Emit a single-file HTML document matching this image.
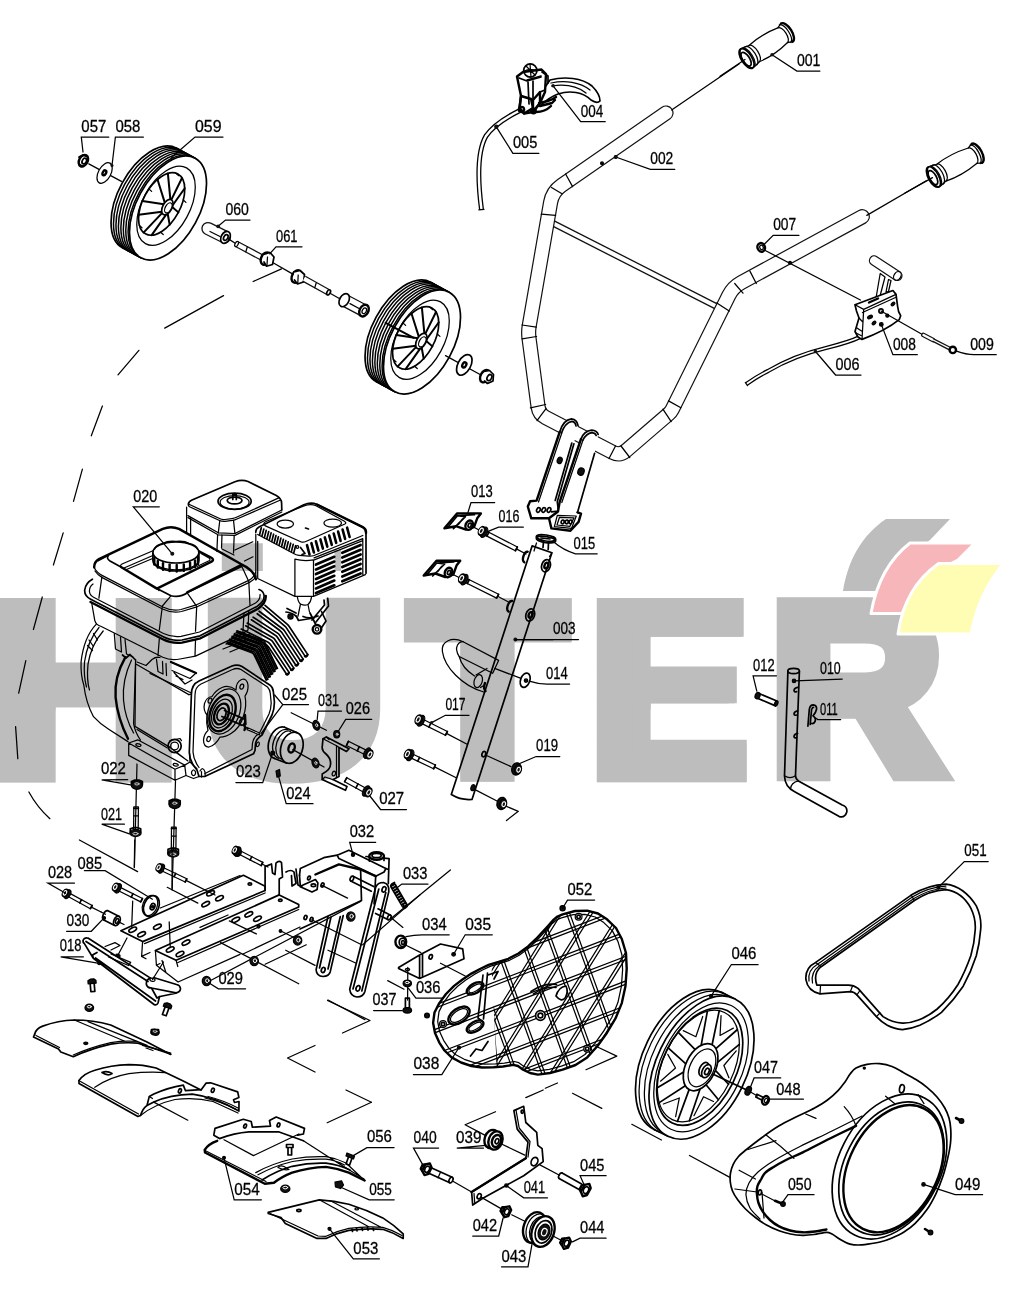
<!DOCTYPE html>
<html lang="ru"><head><meta charset="utf-8"><title>HUTER – схема деталей</title>
<style>
html,body{margin:0;padding:0;background:#fff;}
body{width:1014px;height:1302px;overflow:hidden;}
svg{display:block;will-change:transform}
.k{fill:none;stroke:#000;stroke-width:1.25;stroke-linecap:round;stroke-linejoin:round}
.k2{fill:none;stroke:#000;stroke-width:1.7;stroke-linecap:round;stroke-linejoin:round}
.k3{fill:none;stroke:#000;stroke-width:2.4;stroke-linecap:round;stroke-linejoin:round}
.w{fill:#fff;stroke:#000;stroke-width:1.25;stroke-linecap:round;stroke-linejoin:round}
.w2{fill:#fff;stroke:#000;stroke-width:1.7;stroke-linecap:round;stroke-linejoin:round}
.w3{fill:#fff;stroke:#000;stroke-width:2.4;stroke-linejoin:round}
.b{fill:#111;stroke:#000;stroke-width:1.25;stroke-linejoin:round}
.t{fill:none;stroke:#111;stroke-width:.8;stroke-linecap:round;stroke-linejoin:round}
.lb text{font-family:"Liberation Sans",sans-serif;font-size:17px;fill:#000;stroke:#000;stroke-width:.3px}
.lb path,.lb line{fill:none;stroke:#000;stroke-width:1.25;stroke-linecap:round}
</style></head><body>
<svg width="1014" height="1302" viewBox="0 0 1014 1302">
<!-- 00_watermark.svg -->
<defs>
<clipPath id="wmH"><path d="M0 598H55.6V782.4H0Z M115.7 598H171.6V782.4H115.7Z M0 662.6H171.6V707.2H0Z"/></clipPath>
<clipPath id="wmE"><path d="M596.8 598.1H650.6V782.2H596.8Z M596.8 598.1H743.7V636.8H596.8Z M596.8 666.4H736.8V703.3H596.8Z M596.8 739.8H746.7V782.2H596.8Z"/></clipPath>
<clipPath id="wmT"><path d="M403.9 598.2H571.6V642.6H403.9Z M460.2 598.2H514.4V781.7H460.2Z"/></clipPath>
</defs>
<path fill="#bdbdbd" d="M0 598H55.6V782.4H0Z M115.7 598H171.6V782.4H115.7Z M0 662.6H171.6V707.2H0Z M596.8 598.1H650.6V782.2H596.8Z M596.8 598.1H743.7V636.8H596.8Z M596.8 666.4H736.8V703.3H596.8Z M596.8 739.8H746.7V782.2H596.8Z M403.9 598.2H571.6V642.6H403.9Z M460.2 598.2H514.4V781.7H460.2Z"/>
<g font-family="Liberation Sans, sans-serif" font-weight="700" font-size="245.76" fill="#bdbdbd" stroke="#bdbdbd" stroke-linejoin="miter" stroke-miterlimit="6">
<g clip-path="url(#wmH)"><text transform="translate(-8.73 774.20) scale(1.0660 0.9936)" stroke-width="16.5">H</text></g>
<text transform="translate(200.97 773.26) scale(1.0498 0.9895)" stroke-width="16.5">U</text>
<g clip-path="url(#wmT)"><text transform="translate(409.44 773.42) scale(1.0458 0.9909)" stroke-width="16.5">T</text></g>
<g clip-path="url(#wmE)"><text transform="translate(585.79 776.58) scale(1.0069 1.0223)" stroke-width="11.0">E</text></g>
<text transform="translate(770.56 771.86) scale(0.9688 0.9737)" stroke-width="20.0">R</text>
</g>
<path d="M221.8 543.2H262.8V571H221.8Z M334.6 550H341V571H334.6Z" fill="#bdbdbd"/>
<g stroke="#fff" stroke-width="3" stroke-linejoin="round">
<path d="M886 519 L950 519 L930 540 C900 560 885 575 876 591 L843 591 C848 560 862 535 886 519Z" fill="#bdbdbd" stroke="none"/>
<path d="M910 543 L975 543 L958 560 C925 575 910 595 902 613.5 L871 613.5 C876 585 888 560 910 543Z" fill="#f6b6ba"/>
<path d="M938.6 563.5 L1003.5 563.5 C987 583 976 608 971 634 L898 634 C902 605 915 580 938.6 563.5Z" fill="#fffcb4"/>
</g>
<!-- 05_arc.svg -->
<path class="k" d="M164.7 328.1L223.5 295.6 M118 374.8L138.9 350.3 M91.3 435.8L102.4 406 M73.5 501.3L82.4 469.2 M53.4 565L63.2 532.9 M33.4 629.5L42.3 597 M18.7 693.2L25.8 660.7 M17.8 758.6L15.6 726.6 M28.9 792 Q37 807 49.9 818.7"/>
<!-- 10_handlebar.svg -->
<path d="M551.5 222.5 L715.5 306" fill="none" stroke="#111" stroke-width="6.8" stroke-linecap="butt" stroke-linejoin="round"/><path d="M551.5 222.5 L715.5 306" fill="none" stroke="#fff" stroke-width="4.2" stroke-linecap="butt" stroke-linejoin="round"/>
<path d="M666 113 L561.4 185.5 Q552.5 191.7 550.6 202.4 L529.2 326 Q528.2 332 529 338.1 L538.1 406.9 Q539.1 414.1 545.6 417.5 L612.5 452.3 Q619.7 456.1 625.9 450.8 L668.8 413.8 Q670.9 412 672.2 409.5 L728.7 295.6 Q732.9 287.1 741.2 282.6 L862.3 216.7" fill="none" stroke="#111" stroke-width="15.2" stroke-linecap="round" stroke-linejoin="round"/><path d="M666 113 L561.4 185.5 Q552.5 191.7 550.6 202.4 L529.2 326 Q528.2 332 529 338.1 L538.1 406.9 Q539.1 414.1 545.6 417.5 L612.5 452.3 Q619.7 456.1 625.9 450.8 L668.8 413.8 Q670.9 412 672.2 409.5 L728.7 295.6 Q732.9 287.1 741.2 282.6 L862.3 216.7" fill="none" stroke="#fff" stroke-width="12.8" stroke-linecap="round" stroke-linejoin="round"/>
<path class="k" d="M565.6 174L572.6 186.6"/>
<path class="k" d="M551.5 187.5L562 193.8"/>
<path class="k" d="M541.3 214.2L555.6 215.4"/>
<path class="k" d="M522.1 325L536.3 327.1"/>
<path class="k" d="M522.1 338.8L536.5 336.5"/>
<path class="k" d="M530.4 407.8L545.6 404.5"/>
<path class="k" d="M537 420.5L546 408.5"/>
<path class="k" d="M609 458.5L615.5 446"/>
<path class="k" d="M629.8 457.5L621 446"/>
<path class="k" d="M662.9 409.2L671.2 421.6"/>
<path class="k" d="M668.5 400.9L680.9 407.8"/>
<path class="k" d="M716.8 302.9L729.2 311.1"/>
<path class="k" d="M734.7 283.5L743 293.2"/>
<path class="k" d="M749.9 271.1L756.3 283.5"/>
<circle class="b" cx="602" cy="163.3" r="1.4"/>
<circle class="b" cx="615.7" cy="157" r="1.4"/>
<circle class="b" cx="790" cy="262.8" r="1.4"/>
<path class="k" d="M671.6 110L739 64"/>
<path class="k" d="M866.8 215.4L926.3 180.8"/>
<g class="lb"><text x="650.3" y="164.1" textLength="23" lengthAdjust="spacingAndGlyphs">002</text><path d="M674.8 169.3L650.3 169.3L615.7 157"/><circle cx="615.7" cy="157" r="1.6" fill="#111"/></g>
<!-- 11_grips.svg -->
<g transform="translate(746.6 58.5) rotate(-32.8)"><path class="w" d="M3 -11 L9 -9.6 Q24.9 -12.5 42.8 -8.8 L47.8 -10.8 A5 10.8 0 0 1 47.8 10.8 L42.8 8.8 Q24.9 12.5 9 9.6 L3 11Z"/><path class="k" d="M5 -10.8 A4.8 10.8 0 0 1 5 10.8"/><path class="k" d="M9 -9.6 A4.3 9.6 0 0 1 9 9.6"/><path class="k" d="M42.8 -8.8 A4 8.8 0 0 1 42.8 8.8"/><path class="k3" d="M47.8 -10.8 A5 10.8 0 0 1 47.8 10.8"/><path class="k" d="M45.8 -10.6 A5 10.8 0 0 1 45.8 10.6"/><ellipse class="w2" cx="0" cy="0" rx="5.2" ry="11.3"/><ellipse class="k" cx="1.2" cy="0" rx="5.2" ry="11.3"/><ellipse class="k2" cx="-0.8" cy="0.3" rx="3.5" ry="7.8"/></g>
<g transform="translate(933.5 177) rotate(-28.6)"><path class="w" d="M3 -11 L9 -9.6 Q25.7 -12.5 44.4 -8.8 L49.4 -10.8 A5 10.8 0 0 1 49.4 10.8 L44.4 8.8 Q25.7 12.5 9 9.6 L3 11Z"/><path class="k" d="M5 -10.8 A4.8 10.8 0 0 1 5 10.8"/><path class="k" d="M9 -9.6 A4.3 9.6 0 0 1 9 9.6"/><path class="k" d="M44.4 -8.8 A4 8.8 0 0 1 44.4 8.8"/><path class="k3" d="M49.4 -10.8 A5 10.8 0 0 1 49.4 10.8"/><path class="k" d="M47.4 -10.6 A5 10.8 0 0 1 47.4 10.6"/><ellipse class="w2" cx="0" cy="0" rx="5.2" ry="11.3"/><ellipse class="k" cx="1.2" cy="0" rx="5.2" ry="11.3"/><ellipse class="k2" cx="-0.8" cy="0.3" rx="3.5" ry="7.8"/></g>
<path class="k" d="M720 76.3L745 59.5"/>
<path class="k" d="M905 193L932.5 177.6"/>
<g class="lb"><text x="796.9" y="65.8" textLength="23.5" lengthAdjust="spacingAndGlyphs">001</text><path d="M819.9 71L796.9 71L772 54.7"/><circle cx="772" cy="54.7" r="1.7" fill="#111"/></g>
<!-- 12_controls.svg -->
<path class="k3" style="stroke-width:5;stroke-linecap:butt" d="M519 111 C505 118 493 126 486 136 C478 150 477 175 481.5 209.5"/>
<path class="k" d="M519 111 C505 118 493 126 486 136 C478 150 477 175 481.5 209.5" style="stroke:#fff;stroke-width:2.4;stroke-linecap:butt"/>
<path class="k" d="M478.8 209.8L484 209.4"/>
<path class="w2" d="M550 80 C565 76 582 78 592 86 C597 91 600 96 600 101 C598 103 594 102 591 100 C583 92 570 90 558 94 C550 97 544 102 540 106 L536 100 Z"/>
<path class="k" d="M551 83 C565 80 580 82 590 90"/>
<path class="k" d="M552 86 C565 84 577 86 586 93"/>
<path class="w3" d="M517 76.5 L523 72 L541.5 69.5 L546 74 L545 92 L540 103 L533 112 L524 113.5 L519.5 108 L521 96 Z"/>
<path class="k2" d="M527 80 L541 76 M528 82 L529 104 M533 81 L533 108 M521 96 L531 99 M540 92 L545 90"/>
<path class="k3" d="M521 96 L531 99 L533 108 L524 113.5 L519.5 108 Z"/>
<path class="k3" d="M540 92 L540 103 L533 112 L533 100 Z"/>
<circle class="k2" cx="530.3" cy="70.5" r="6.6"/>
<path class="k" d="M526 66 L535 75 M530 64 L531 77 M524.5 71 Q530 68 536.5 71"/>
<path class="k3" d="M539 103 C546 102 552 100 556 97 M540 106 L552 103 L555 100 M536 112 C543 112 548 109 551 106"/>
<circle class="k3" cx="521.5" cy="109.5" r="2.6"/>
<circle class="k3" cx="533.5" cy="111" r="2.2"/>
<path class="k2" d="M542 72 L548 76 L548 83 M519 78 L527 81 L541 77"/>
<g class="lb"><text x="580.7" y="116.5" textLength="22.5" lengthAdjust="spacingAndGlyphs">004</text><path d="M605.2 121.7L580.7 121.7L553.1 85.8"/><circle cx="553.1" cy="85.8" r="1.8" fill="#111"/></g>
<g class="lb"><text x="512.9" y="148.1" textLength="24.4" lengthAdjust="spacingAndGlyphs">005</text><path d="M538.9 153.3L512.9 153.3L496.3 126.8"/><circle cx="496.3" cy="126.8" r="2.2" fill="#111"/></g>
<path class="k" d="M764.3 250L860.4 300"/>
<ellipse class="w3" cx="761.2" cy="247.4" rx="3.7" ry="4.4" transform="rotate(-20 761.2 247.4)"/><ellipse class="k" cx="761.5" cy="247.4" rx="1.7" ry="2.2" transform="rotate(-20 761.5 247.4)"/>
<g class="lb"><text x="773.2" y="230.2" textLength="23" lengthAdjust="spacingAndGlyphs">007</text><path d="M798.9 235.4L773.2 235.4L763.5 245"/></g>
<path class="k3" style="stroke-width:4.2;stroke-linecap:butt" d="M860 337 C850 342 838 345 826 348 C805 353 785 361 768 371 C760 375 752 380 746.5 384"/>
<path class="k" d="M860 337 C850 342 838 345 826 348 C805 353 785 361 768 371 C760 375 752 380 746.5 384" style="stroke:#fff;stroke-width:1.8;stroke-linecap:butt"/>
<path class="k" d="M745.3 382.5L747.5 385.7"/>
<path class="w" d="M880.2 273.5 L875.5 301 L879 300 L885 277 Z"/>
<path class="w" d="M888.5 279.5 L886 292 L888.5 291.5 L891 280.5Z"/>
<path d="M874.2 260.6 L897.2 275.7" fill="none" stroke="#111" stroke-width="10.7" stroke-linecap="round" stroke-linejoin="round"/><path d="M874.2 260.6 L897.2 275.7" fill="none" stroke="#fff" stroke-width="8.2" stroke-linecap="round" stroke-linejoin="round"/>
<ellipse class="w" cx="897.4" cy="275.9" rx="3.4" ry="4.6" transform="rotate(33 897.4 275.9)"/>
<path class="w2" d="M855 304.7 L892.9 290.5 L896 294.4 L897.6 306.3 Q898 312 900.7 315.7 L899.2 319.7 Q885 331 862 339.4 L858 337 L855 331.5 L859 318 L856.5 311 Z"/>
<path class="k" d="M855 304.7 L863.7 309.4 L896 294.4 M863.7 309.4 L862 339.4 M862.5 312.5 L895.5 297.5 M859 318 L862.8 322 M857 328 L861.5 331 M856 333 L861 335.5"/>
<path class="k3" d="M869 302.5 L878 298.5"/>
<circle class="k2" cx="881" cy="311" r="2.1"/>
<ellipse class="b" cx="870" cy="317" rx="2.6" ry="1.5" transform="rotate(-30 870 317)"/>
<ellipse class="b" cx="893" cy="304" rx="2.2" ry="1.3" transform="rotate(-40 893 304)"/>
<ellipse class="b" cx="874" cy="323" rx="2.2" ry="1.3" transform="rotate(-40 874 323)"/>
<circle class="b" cx="881.3" cy="324.4" r="1.8"/>
<circle class="b" cx="887.3" cy="315.7" r="1.5"/>
<path class="k" d="M881 311L922.8 334.7"/>
<path d="M923.5 335 L933 340" fill="none" stroke="#111" stroke-width="4.8" stroke-linecap="round" stroke-linejoin="round"/><path d="M923.5 335 L933 340" fill="none" stroke="#fff" stroke-width="2.4" stroke-linecap="round" stroke-linejoin="round"/>
<path d="M933 340 L950.5 348.9" fill="none" stroke="#111" stroke-width="3.9" stroke-linecap="butt" stroke-linejoin="round"/><path d="M933 340 L950.5 348.9" fill="none" stroke="#fff" stroke-width="1.4" stroke-linecap="butt" stroke-linejoin="round"/>
<circle class="w3" cx="952.8" cy="349.9" r="3.2"/>
<g class="lb"><text x="892.9" y="349.5" textLength="23" lengthAdjust="spacingAndGlyphs">008</text><path d="M917.3 354.7L892.9 354.7L881.3 324.4"/></g>
<g class="lb"><text x="970.2" y="349.5" textLength="23.6" lengthAdjust="spacingAndGlyphs">009</text><path d="M956.5 351.2 Q966 354.7 974 354.7 L996.2 354.7"/></g>
<g class="lb"><text x="835.6" y="369.8" textLength="24" lengthAdjust="spacingAndGlyphs">006</text><path d="M861 375L835.6 375L815.5 351.5"/><circle cx="815.5" cy="351.5" r="1.8" fill="#111"/></g>
<!-- 20_wheels.svg -->
<g transform="translate(168 208) rotate(28.5)"><ellipse class="w2" cx="-21" cy="0" rx="31.2" ry="56.7"/><ellipse class="w" style="stroke-width:1.5" cx="-18.2" cy="0" rx="31.2" ry="56.7"/><ellipse class="w" style="stroke-width:1.5" cx="-15.4" cy="0" rx="31.2" ry="56.7"/><ellipse class="w" style="stroke-width:1.5" cx="-12.6" cy="0" rx="31.2" ry="56.7"/><ellipse class="w" style="stroke-width:1.5" cx="-9.8" cy="0" rx="31.2" ry="56.7"/><ellipse class="w" style="stroke-width:1.5" cx="-7" cy="0" rx="31.2" ry="56.7"/><ellipse class="w" style="stroke-width:1.5" cx="-4.2" cy="0" rx="31.2" ry="56.7"/><ellipse class="w" style="stroke-width:1.5" cx="-1.6" cy="0" rx="31.2" ry="56.7"/><path class="k2" d="M-21 -56.7 L0 -56.7 M-21 56.7 L0 56.7"/><ellipse class="w2" cx="0" cy="0" rx="31.2" ry="56.7"/><ellipse class="k" cx="-2.8" cy="-1" rx="23.7" ry="43.1"/><ellipse class="k2" cx="-7.5" cy="-0.5" rx="18.7" ry="34"/><path class="k3" style="stroke-width:2" d="M-2 -33L-1 -8.7"/><path class="k3" style="stroke-width:2" d="M5.3 -25.4L2.8 -4.6"/><path class="k" d="M9.6 -14.3L13.1 -13.5"/><path class="k3" style="stroke-width:2" d="M11.2 -1.1L3.2 -3"/><path class="k3" style="stroke-width:2" d="M9.5 13.9L2.3 5"/><path class="k" d="M5 24.8L8.5 25.6"/><path class="k3" style="stroke-width:2" d="M-1.4 31.7L1.6 6.1"/><path class="k3" style="stroke-width:2" d="M-9.8 33.3L-2.8 7"/><path class="k" d="M-16.9 29L-13.4 29.8"/><path class="k3" style="stroke-width:2" d="M-22.5 20L-3.6 6.1"/><path class="k3" style="stroke-width:2" d="M-25.9 6L-5.4 -1.4"/><path class="k" d="M-25.8 -7.6L-22.3 -6.8"/><path class="k3" style="stroke-width:2" d="M-22.8 -20L-5.2 -3"/><path class="k3" style="stroke-width:2" d="M-16.6 -30.3L-1.9 -8.5"/><path class="k" d="M-9.5 -34.3L-6 -33.5"/><ellipse class="w2" cx="-1" cy="-0.5" rx="4.6" ry="8.4"/><ellipse class="w" cx="0.2" cy="-0.3" rx="3" ry="5.5"/></g>
<g transform="translate(422 342) rotate(28.5)"><ellipse class="w2" cx="-21" cy="0" rx="31.2" ry="56.7"/><ellipse class="w" style="stroke-width:1.5" cx="-18.2" cy="0" rx="31.2" ry="56.7"/><ellipse class="w" style="stroke-width:1.5" cx="-15.4" cy="0" rx="31.2" ry="56.7"/><ellipse class="w" style="stroke-width:1.5" cx="-12.6" cy="0" rx="31.2" ry="56.7"/><ellipse class="w" style="stroke-width:1.5" cx="-9.8" cy="0" rx="31.2" ry="56.7"/><ellipse class="w" style="stroke-width:1.5" cx="-7" cy="0" rx="31.2" ry="56.7"/><ellipse class="w" style="stroke-width:1.5" cx="-4.2" cy="0" rx="31.2" ry="56.7"/><ellipse class="w" style="stroke-width:1.5" cx="-1.6" cy="0" rx="31.2" ry="56.7"/><path class="k2" d="M-21 -56.7 L0 -56.7 M-21 56.7 L0 56.7"/><ellipse class="w2" cx="0" cy="0" rx="31.2" ry="56.7"/><ellipse class="k" cx="-2.8" cy="-1" rx="23.7" ry="43.1"/><ellipse class="k2" cx="-7.5" cy="-0.5" rx="18.7" ry="34"/><path class="k3" style="stroke-width:2" d="M-2 -33L-1 -8.7"/><path class="k3" style="stroke-width:2" d="M5.3 -25.4L2.8 -4.6"/><path class="k" d="M9.6 -14.3L13.1 -13.5"/><path class="k3" style="stroke-width:2" d="M11.2 -1.1L3.2 -3"/><path class="k3" style="stroke-width:2" d="M9.5 13.9L2.3 5"/><path class="k" d="M5 24.8L8.5 25.6"/><path class="k3" style="stroke-width:2" d="M-1.4 31.7L1.6 6.1"/><path class="k3" style="stroke-width:2" d="M-9.8 33.3L-2.8 7"/><path class="k" d="M-16.9 29L-13.4 29.8"/><path class="k3" style="stroke-width:2" d="M-22.5 20L-3.6 6.1"/><path class="k3" style="stroke-width:2" d="M-25.9 6L-5.4 -1.4"/><path class="k" d="M-25.8 -7.6L-22.3 -6.8"/><path class="k3" style="stroke-width:2" d="M-22.8 -20L-5.2 -3"/><path class="k3" style="stroke-width:2" d="M-16.6 -30.3L-1.9 -8.5"/><path class="k" d="M-9.5 -34.3L-6 -33.5"/><ellipse class="w2" cx="-1" cy="-0.5" rx="4.6" ry="8.4"/><ellipse class="w" cx="0.2" cy="-0.3" rx="3" ry="5.5"/></g>
<path class="k" d="M88.8 163.9L121.4 181.4"/>
<ellipse class="w" cx="104.6" cy="173" rx="6.2" ry="11.2" transform="rotate(28.5 104.6 173)"/>
<ellipse class="w3" cx="104.4" cy="172.8" rx="1.6" ry="2.6" transform="rotate(28.5 104.4 172.8)"/>
<ellipse class="w3" cx="83.4" cy="160.7" rx="4.2" ry="6.2" transform="rotate(28.5 83.4 160.7)"/>
<ellipse class="k2" cx="84.3" cy="161.1" rx="2" ry="3" transform="rotate(28.5 84.3 161.1)"/>
<path class="k2" d="M79 157 L83 155 L87.5 157 M79.5 164.5 L83 166.5"/>
<path d="M208 228.6 L224.5 236.8" fill="none" stroke="#111" stroke-width="13.4" stroke-linecap="round" stroke-linejoin="round"/><path d="M208 228.6 L224.5 236.8" fill="none" stroke="#fff" stroke-width="10.9" stroke-linecap="round" stroke-linejoin="round"/>
<ellipse class="w2" cx="225.5" cy="237.3" rx="4.3" ry="6.4" transform="rotate(28.5 225.5 237.3)"/>
<ellipse class="k2" cx="225.8" cy="237.5" rx="2" ry="3.1" transform="rotate(28.5 225.8 237.5)"/>
<path class="k" d="M210 231.5L220 236.5"/>
<path class="k" d="M228 238.6L236 243.7"/>
<path d="M236.8 244.1 L262.6 257.9" fill="none" stroke="#111" stroke-width="6.7" stroke-linecap="butt" stroke-linejoin="round"/><path d="M236.8 244.1 L262.6 257.9" fill="none" stroke="#fff" stroke-width="4.2" stroke-linecap="butt" stroke-linejoin="round"/>
<ellipse class="w" cx="236.6" cy="244" rx="1.5" ry="2.8" transform="rotate(28.5 236.6 244)"/>
<path class="k" d="M247.2 247.2L245.8 251.8"/>
<ellipse class="w3" cx="265.8" cy="258.6" rx="4.6" ry="6.6" transform="rotate(28.5 265.8 258.6)"/>
<path class="w2" d="M263.5 254.5 L270 252.5 L274 257 L272.5 264.5 L266.5 266.2 L264 262"/>
<path class="k" d="M267.5 257L267 265"/>
<path class="k" d="M273.5 263L292 273.6"/>
<ellipse class="w3" cx="296.6" cy="276.5" rx="4.6" ry="6.6" transform="rotate(28.5 296.6 276.5)"/>
<path class="w2" d="M294 272 L300 270.5 L304.5 274.5 L303.5 282 L297.5 284 L294.5 280"/>
<path class="k" d="M298.2 275L297.8 283"/>
<path d="M304 278.7 L328.6 292.4" fill="none" stroke="#111" stroke-width="6.7" stroke-linecap="butt" stroke-linejoin="round"/><path d="M304 278.7 L328.6 292.4" fill="none" stroke="#fff" stroke-width="4.2" stroke-linecap="butt" stroke-linejoin="round"/>
<ellipse class="w2" cx="328.6" cy="292.4" rx="1.6" ry="2.8" transform="rotate(28.5 328.6 292.4)"/>
<path class="k" d="M316.2 283L314.8 287.6"/>
<path class="k" d="M330.5 293.5L341.5 299.8"/>
<path d="M345.5 300.8 L362.5 309.8" fill="none" stroke="#111" stroke-width="13.2" stroke-linecap="round" stroke-linejoin="round"/><path d="M345.5 300.8 L362.5 309.8" fill="none" stroke="#fff" stroke-width="10.8" stroke-linecap="round" stroke-linejoin="round"/>
<ellipse class="w2" cx="344.2" cy="300.2" rx="4.6" ry="7" transform="rotate(28.5 344.2 300.2)"/>
<ellipse class="w3" cx="364" cy="310.6" rx="4.3" ry="6.2" transform="rotate(28.5 364 310.6)"/>
<ellipse class="k" cx="364.3" cy="310.8" rx="2" ry="3" transform="rotate(28.5 364.3 310.8)"/>
<path class="k" d="M350 303.6L360 309"/>
<path class="k3" style="stroke-width:2" d="M385.6 322.8 L413.7 337.8"/>
<path class="k" d="M445.5 355.6L481 375"/>
<ellipse class="w2" cx="464.3" cy="364.9" rx="6.4" ry="11.2" transform="rotate(28.5 464.3 364.9)"/>
<ellipse class="w3" cx="464.3" cy="364.9" rx="1.8" ry="2.8" transform="rotate(28.5 464.3 364.9)"/>
<ellipse class="w3" cx="485" cy="376.2" rx="4.4" ry="6.6" transform="rotate(28.5 485 376.2)"/>
<path class="w2" d="M484 371.5 L489.5 370.5 L493.5 374.5 L493 381 L487.5 383.5 L484.5 381"/>
<ellipse class="k2" cx="489.4" cy="377.6" rx="2.2" ry="3.2" transform="rotate(28.5 489.4 377.6)"/>
<path class="k" d="M253.1 281.5L281.5 268.9"/>
<g class="lb"><text x="81.3" y="131.8" textLength="25" lengthAdjust="spacingAndGlyphs">057</text><path d="M108.8 137L81.3 137L83 152"/></g>
<g class="lb"><text x="115.4" y="131.8" textLength="25" lengthAdjust="spacingAndGlyphs">058</text><path d="M143.4 137L115.4 137L112 165.5"/><circle cx="112" cy="165.5" r="1.5" fill="#111"/></g>
<g class="lb"><text x="195" y="131.8" textLength="26.5" lengthAdjust="spacingAndGlyphs">059</text><path d="M223 137L195 137L172 157"/><circle cx="172" cy="157" r="1.5" fill="#111"/></g>
<g class="lb"><text x="225.5" y="214.8" textLength="23.4" lengthAdjust="spacingAndGlyphs">060</text><path d="M250 220L225.5 220L218.1 226.3"/><circle cx="218.1" cy="226.3" r="1.9" fill="#111"/></g>
<g class="lb"><text x="276" y="241.6" textLength="21.5" lengthAdjust="spacingAndGlyphs">061</text><path d="M302 246.8L276 246.8L269.7 253.9"/></g>
<!-- 30_engine.svg -->
<path class="k2" d="M188.6 505.5 Q187.5 502 192 500 L234.9 481.7 Q242 479.3 248 481.5 L276.3 495.5 Q281.5 498.5 281.6 503 L281.8 510"/>
<path class="k" d="M189.5 504.5 L219.5 518.5 Q221.5 519.8 225 519.5 L232 518.6 Q234.5 518.3 236.5 517.3 L279.3 497.6"/>
<path class="k" d="M189 506.5 L219.5 520.5 Q222 521.5 225 521.3 L232.5 520.4 Q235 520 237 519 L280.5 500"/>
<path class="k" d="M187.9 515.6 L218.3 532.8 L234.9 533.5 L281.8 510 M188 517.6 L218 534.8 L235 535.4 L281.8 512"/>
<path class="k" d="M186.6 507 L186.6 533 M190.6 517.5 L190.6 535 M219.8 520.5 L218.3 532.8 M217.6 535 L216.9 551.5 M233.5 520.3 L234.9 533.5 M234.2 535.5 L233.5 553 M222 535 L221.5 548"/>
<ellipse class="k2" cx="234.6" cy="501.3" rx="16.6" ry="8.2"/>
<ellipse class="k" cx="234.6" cy="502.3" rx="14.5" ry="6.8"/>
<ellipse class="k2" cx="234.6" cy="500.5" rx="7.4" ry="3.4"/>
<path class="k2" d="M232.8 499.5 L232.8 494.5 L236.3 494.5 L236.3 499.5"/>
<path class="k" d="M234.9 550 L252.8 541.8 M244.5 561 L253 556.8 M222 549 L234 555"/>
<path class="k2" d="M255.8 532.3 Q255.5 529 259 527 L303.8 504.7 Q311 501.7 317 504.5 L362.8 527.2 Q366.3 529 366 533 L366 573.3"/>
<path class="k3" d="M317 504.5 L362.8 527.2 Q366.3 529 366 533"/>
<path class="k" d="M265.4 525.9 Q262 523.5 266 521.5 L304 505.8 Q311 503.5 316 505.7 L344 521 Q347 522.8 344.9 524 L306.4 541.3 Q303.5 542.6 301.3 542 Z"/>
<path class="k" d="M257.7 534.5 L293.6 553.5 Q296 555 299 555.3 L309 556.2 Q312 556.3 314.1 555.5 L362.8 535.5"/>
<path class="k" d="M257.7 541.3 L257.7 578.5 L294.9 596.4 L294.9 559.2 M313.5 559.9 L313.5 596.4 L365.4 574.6 M255.8 534 L255.8 579.5 M362.8 538.7 L362.8 574.5 M314.1 557.9 L362.8 538.7 M314.3 559.9 L362.8 540.7 M294.9 596.4 L313.5 596.4 M294.9 559.2 Q304 561.5 313.5 559.9"/>
<path class="k2" d="M259.5 535L261.3 527.8"/>
<path class="k2" d="M261.9 536.3L263.8 529.1"/>
<path class="k2" d="M264.4 537.6L266.2 530.4"/>
<path class="k2" d="M266.9 538.8L268.7 531.6"/>
<path class="k2" d="M269.3 540.1L271.1 532.9"/>
<path class="k2" d="M271.8 541.4L273.6 534.2"/>
<path class="k2" d="M274.2 542.7L276 535.5"/>
<path class="k2" d="M276.6 544L278.4 536.8"/>
<path class="k2" d="M279.1 545.2L280.9 538"/>
<path class="k2" d="M281.6 546.5L283.4 539.3"/>
<path class="k2" d="M284 547.8L285.8 540.6"/>
<path class="k2" d="M286.4 549.1L288.2 541.9"/>
<path class="k2" d="M288.9 550.4L290.7 543.2"/>
<path class="k2" d="M291.4 551.6L293.2 544.4"/>
<path class="k2" d="M293.8 552.9L295.6 545.7"/>
<path class="k3" style="stroke-width:2.6" d="M309.5 554.5L307 545.2"/>
<path class="k3" style="stroke-width:2.6" d="M313.9 552.5L311.4 543.2"/>
<path class="k3" style="stroke-width:2.6" d="M318.4 550.6L315.9 541.3"/>
<path class="k3" style="stroke-width:2.6" d="M322.9 548.6L320.4 539.4"/>
<path class="k3" style="stroke-width:2.6" d="M327.3 546.7L324.8 537.4"/>
<path class="k3" style="stroke-width:2.6" d="M331.8 544.8L329.2 535.5"/>
<path class="k3" style="stroke-width:2.6" d="M336.2 542.8L333.7 533.5"/>
<path class="k3" style="stroke-width:2.6" d="M340.6 540.9L338.1 531.6"/>
<path class="k3" style="stroke-width:2.6" d="M345.1 538.9L342.6 529.6"/>
<path class="k3" style="stroke-width:2.6" d="M349.6 537L347.1 527.7"/>
<path class="k3" style="stroke-width:2.7" d="M316 564.6L334.3 556.8"/>
<path class="k3" style="stroke-width:2.7" d="M316 569.4L334.3 561.6"/>
<path class="k3" style="stroke-width:2.7" d="M316 574.1L334.3 566.3"/>
<path class="k3" style="stroke-width:2.7" d="M316 578.9L334.3 571.1"/>
<path class="k3" style="stroke-width:2.7" d="M316 583.6L334.3 575.8"/>
<path class="k3" style="stroke-width:2.7" d="M316 588.4L334.3 580.6"/>
<path class="k3" style="stroke-width:2.7" d="M316 593.1L334.3 585.3"/>
<path class="k3" style="stroke-width:2.7" d="M342.3 552.8L360.6 545"/>
<path class="k3" style="stroke-width:2.7" d="M342.3 557.5L360.6 549.8"/>
<path class="k3" style="stroke-width:2.7" d="M342.3 562.3L360.6 554.5"/>
<path class="k3" style="stroke-width:2.7" d="M342.3 567L360.6 559.2"/>
<path class="k3" style="stroke-width:2.7" d="M342.3 571.8L360.6 564"/>
<path class="k3" style="stroke-width:2.7" d="M342.3 576.5L360.6 568.8"/>
<path class="k3" style="stroke-width:2.7" d="M342.3 581.3L360.6 573.5"/>
<ellipse class="w" cx="285.3" cy="524" rx="8.2" ry="4"/>
<ellipse class="w" cx="332.7" cy="523.1" rx="8.8" ry="4.1"/>
<path class="k2" d="M305.5 528 L308.5 529"/>
<circle class="k" cx="297.4" cy="547" r="1.3"/>
<path class="k2" d="M300.5 547.5 L305 553.5 L302 554.5"/>
<path class="k" d="M297.4 597 Q298 602 300.5 604 L298 616 M311.5 597 Q311 602 308 604.5 L309.5 612 M300.5 604 Q304.5 606 308 604.5"/>
<path class="k2" d="M327.7 598.3 L328.5 606 L316 622 M324 600 L324.5 605 L312 620 M286 612 Q292 612.5 296.5 616.5 M287 608.5 L296 613 M303 616.5 Q310 619.5 318 616"/>
<circle class="k3" cx="317" cy="629.3" r="4.3"/>
<circle class="k" cx="317" cy="629.3" r="1.8"/>
<path class="k2" d="M310 613 L316 625 M321.5 611.5 L326 621 L321 628.5 M296.5 616.5 L298.5 620.5 L314 618"/>
<circle class="b" cx="290.5" cy="616.5" r="2.6"/>
<path class="k2" d="M239.9 631.9 L265.6 644.3 Q267.3 645.2 268.4 646.8 L286.6 674.3 M241.2 629.1 L267.7 641.9 Q269.4 642.8 270.5 644.4 L289.2 672.6 M286.6 674.3L289.2 672.6"/>
<path class="k2" d="M286 674.4 q1.8 1.6 3.2 -1.8"/>
<path class="k2" d="M245.7 625.8 L270.5 639.8 Q271.9 640.6 272.9 642 L291.2 669.8 M247.2 623.1 L272.6 637.5 Q274.1 638.3 275 639.7 L293.8 668.1 M291.2 669.8L293.8 668.1"/>
<path class="k2" d="M290.6 669.9 q1.8 1.6 3.2 -1.8"/>
<path class="k2" d="M251.4 619.8 L275.3 635.3 Q276.6 636.1 277.4 637.3 L295.9 665.3 M253.1 617.2 L277.6 633.1 Q278.8 633.9 279.6 635.1 L298.5 663.6 M295.9 665.3L298.5 663.6"/>
<path class="k2" d="M295.3 665.4 q1.8 1.6 3.2 -1.8"/>
<path class="k2" d="M257.2 613.7 L280.2 630.8 Q281.2 631.6 281.9 632.6 L300.5 660.8 M259.1 611.2 L282.5 628.7 Q283.5 629.4 284.2 630.4 L303.1 659.1 M300.5 660.8L303.1 659.1"/>
<path class="k2" d="M299.9 660.9 q1.8 1.6 3.2 -1.8"/>
<path class="k2" d="M263 607.7 L285.1 626.4 Q285.8 627 286.4 627.9 L305.2 656.4 M265 605.3 L287.4 624.3 Q288.2 625 288.7 625.8 L307.8 654.6 M305.2 656.4L307.8 654.6"/>
<path class="k2" d="M304.6 656.4 q1.8 1.6 3.2 -1.8"/>
<path class="k2" d="M226.7 643.5 L251.9 652.8 Q253.4 653.4 254.1 654.8 L266.2 680.1 M227.3 641.9 L253.1 651.5 Q254.6 652 255.3 653.5 L267.8 679.3 M266.2 680.1L267.8 679.3"/>
<path class="k2" d="M229.1 640.7 L254.3 650.1 Q255.8 650.6 256.5 652.1 L268.6 677.3 M229.7 639.2 L255.5 648.7 Q257 649.3 257.7 650.7 L270.2 676.6 M268.6 677.3L270.2 676.6"/>
<path class="k2" d="M231.5 638 L256.7 647.3 Q258.2 647.9 258.9 649.3 L271 674.6 M232.1 636.4 L257.9 646 Q259.4 646.5 260.1 648 L272.6 673.8 M271 674.6L272.6 673.8"/>
<path class="k2" d="M233.9 635.2 L259.1 644.6 Q260.6 645.1 261.3 646.6 L273.4 671.8 M234.5 633.7 L260.3 643.2 Q261.8 643.8 262.5 645.2 L275 671.1 M273.4 671.8L275 671.1"/>
<path class="k2" d="M236.3 632.5 L261.5 641.8 Q263 642.4 263.7 643.8 L275.8 669.1 M236.9 630.9 L262.7 640.5 Q264.2 641 264.9 642.5 L277.4 668.3 M275.8 669.1L277.4 668.3"/>
<path class="k" d="M226 644 L250 634 M223 649 L246 640 M230 652 L244 646"/>
<path class="k3" d="M94.2 567.5 Q94 562 98.9 559.1 L162.8 528.9 Q171 525.5 179 528.9 L240.5 563.8 Q254 570 255.9 579.2"/>
<path class="k2" d="M108.4 555.5 Q106 558.5 110 561 L121.4 567.3 M156.9 588.6 L171 595.7 Q180 598 188 592.2 L241.5 566.5"/>
<path class="k3" d="M187.2 592.2 L240.5 565.3"/>
<path class="k3" d="M121.4 567.3 L156.9 588.6 L212 561.4 Q214.5 559.5 211 557.5 L198.5 551"/>
<path class="k" d="M121.4 567.3 Q119.5 565.5 122 564 L153.5 550.5 M124 568 L154 555 M126.5 569.5 L155 557.5 M156.9 588.6 L159 590.5"/>
<path class="k" d="M201 553.5 L209 558 Q211 559.5 209 560.8 L197 566.5"/>
<path class="k" d="M94.2 567.5 Q96.5 572.5 102.5 575.6 L162.8 607 Q172 611.5 181 609.5 L195.5 605.2 L248.8 580.4 Q254.5 577 255.5 572"/>
<path class="k" d="M95 571 Q97.5 575 102.3 577.6 L162.5 609 Q172 613.5 181.5 611.5 L196 607.2 L249.5 582.4 Q255 579.5 256 576"/>
<path class="k" d="M171.1 595.7 L162.4 606 L159.3 630 M187.2 592.8 L196.7 606.4 L195.5 631.2 M241.7 566.2 L248.8 581.5 L250 605.2 M101.9 576.8 L98.9 598.1 M108.4 555.5 L98 561"/>
<path class="k2" d="M92.4 579.2 Q85.5 583 84.7 590 Q84.2 596 90.7 599.3 L162.8 636.6 Q172 641.5 182 640 L200 635.8 L257 606.4 Q264.5 601.5 264.1 595.7 Q263.5 591 259 589.5"/>
<path class="k3" d="M90.5 602 L162.8 639.3 Q172 644 182 642.6 L200.5 638.3 L258 608.8 Q266 603.5 265.8 596"/>
<path class="k" d="M93 584 Q89 587 89.5 592 Q90 595.5 94 597.5 L163.5 633.5 Q172 637.5 181 636.3 L199.5 632 L255.5 603 Q260.5 599.5 260 594.5"/>
<path class="k" d="M91.8 603.5 L94.8 620.6 Q96 625 101.3 626.5 L162.8 657.3 Q171 661 180 659 L195.5 656.1 L242.8 633.6 L244 613.5 M195.5 640 L195 656 M159.3 639 L158 655.5 M248.8 611 L248 630 L243 633.5"/>
<path class="k" d="M114.3 633.6 L115.5 649 L121.5 652 L120.5 637 M125 639.5 L126.5 654 L133 657"/>
<path class="k" d="M137 662 L146 665.5 L152 659.5 Q156 656.5 160 657.5 M156.5 659.5 L158 671.5 L163 674 L162.5 661.5 M166 663.5 L166.5 675.5 M171 662 L196 673 L190 678.5 L172 670.5 M174 672.5 L185 684 L192 680 M176 676 L183 679.5"/>
<path class="k3" d="M171 662 L196 673"/>
<path class="w2" d="M152.9 552.5 L152.9 560.5 A23 10.5 0 0 0 198.9 560.5 L198.9 552.5"/>
<ellipse class="w2" cx="175.9" cy="552.5" rx="23" ry="10.5"/>
<path class="k2" d="M154.5 549 Q156 545 163 543.5 Q168 540.5 176 541.5 Q184 540.5 189 543.5 Q196 545 197.5 549"/>
<path class="k3" d="M154.3 558.1L154.3 564.6"/>
<path class="k3" d="M157.8 561L157.8 567.5"/>
<path class="k3" d="M163 563.2L163 569.7"/>
<path class="k3" d="M169.6 564.6L169.6 571.1"/>
<path class="k3" d="M176.7 565L176.7 571.5"/>
<path class="k3" d="M183.8 564.4L183.8 570.9"/>
<path class="k3" d="M190.1 562.8L190.1 569.3"/>
<path class="k3" d="M195 560.4L195 566.9"/>
<path class="k3" d="M198 557.4L198 563.9"/>
<path class="k" d="M154 562.5 A23 10.5 0 0 0 198 562.5"/>
<path class="k" d="M96.3 624.1 Q84 637 81.1 661.5 Q80.5 675 83.8 685 Q86 703 93.5 716.7 Q100 724 108.7 729.2 L128 741.6"/>
<path class="k" d="M103.2 631 Q91 645 88 664.2 Q86.5 680 89.5 690 M99 627.5 Q87.5 641 84.5 662 Q83.5 676 86.5 687"/>
<path class="k" d="M89 640 L93.5 646.5 M87.5 645.5 L92.5 650.5 M93.5 633.5 L97.5 640"/>
<path class="k3" d="M125.3 657.3 Q114 677 115.6 697.4 Q117.5 718 128 738.8"/>
<path class="k" d="M135.6 660 Q134.5 692 133.6 723.6 Q135 732 140.5 740.2 M131.5 660 Q122 680 123.5 700 Q125 718 133.6 733"/>
<path class="k2" d="M122.5 655 L126 658 L130 654.5 L135.6 660"/>
<path class="k" d="M136.3 664.2 L188.8 694.6 M135 726.4 L169.5 747.1 M137 729.5 L167 747.8 M135.6 664 L135 726.4"/>
<path class="k2" d="M191.4 694.2 Q191.4 684.5 199 681 L232 666 Q237 664 242 666.5 L270.1 685.2 Q273 687.5 273.4 692 L274.4 702 Q274.5 709 272 715 L262 735 Q256 739 255.5 744 L255 750.5 L253.5 753.8 L205.2 776.3 L199 776.5 L197 770 Q189.5 762 189.3 752.2 Z"/>
<path class="k" d="M195 695 Q195 687 201 684 L232.5 669.5 Q237 667.5 241 669.5 L267.5 687 Q270 689.5 270.3 693.5 L271.2 703 Q271 709 269 714 L259.5 733 Q253.5 737 252.5 743 L252 749.5 L205 773.5 M195 695 L193 752 Q193.5 760 199 767.5"/>
<path class="k" d="M150 673.5 L191.4 693 M188.8 694.6 L191.4 694.2"/>
<path class="k" d="M236 690 Q236 682 241.5 679.5 Q247 678 248 685 Q248.5 691 245 696 Q247 706 243.5 716 Q240 728 231 733.5 Q226 737 220 737 Q215.5 745.5 209 747 Q203.5 747 203.5 740 Q204 734 208 730.5 Q206 723 207 715 Q203 710 204.5 703.5 Q206.5 697 212 696.5 Q216 690 222 687.5 Q229 684.5 236 690Z"/>
<ellipse class="k" cx="241.8" cy="686.6" rx="1.8" ry="2.6" transform="rotate(20 241.8 686.6)"/>
<ellipse class="k" cx="210" cy="700.6" rx="1.8" ry="2.6" transform="rotate(20 210 700.6)"/>
<ellipse class="k" cx="208.7" cy="739" rx="1.8" ry="2.6" transform="rotate(20 208.7 739)"/>
<ellipse class="k" cx="224" cy="711.5" rx="15.5" ry="23.5" transform="rotate(22 224 711.5)"/>
<ellipse class="k3" cx="222.5" cy="713" rx="12" ry="19" transform="rotate(22 222.5 713)"/>
<ellipse class="k" cx="222" cy="713.5" rx="9.5" ry="15" transform="rotate(22 222 713.5)"/>
<ellipse class="k3" cx="221.5" cy="714" rx="6.8" ry="10.8" transform="rotate(22 221.5 714)"/>
<ellipse class="k2" cx="221.5" cy="714.3" rx="4.2" ry="6.6" transform="rotate(22 221.5 714.3)"/>
<path class="k2" d="M221.9 716.5 L240.7 724.6 M224.5 710.5 L243.3 718.6"/>
<ellipse class="k2" cx="242.3" cy="721.8" rx="2.5" ry="3.5" transform="rotate(22 242.3 721.8)"/>
<path class="w" d="M246.6 727.3 L259 732.8 L259.6 735 L247.2 729.6Z"/>
<path class="k3" d="M245 715 L245.5 724 M244 725 Q246 727.5 244.5 730"/>
<path class="k" d="M258.3 742 a1.4 2.4 20 1 0 0.1 0"/>
<circle class="k2" cx="174.6" cy="746" r="6.6"/>
<circle class="k" cx="174.6" cy="746" r="3.9"/>
<path class="k" d="M170 740.5 L180 738.5 L181.5 740.5"/>
<path class="k" d="M128.7 743 L137.7 739.8 L184.7 765.1 L175 769.3 Z M128.7 743 L128.7 755.4 L175 780.3 L175 769.3 M184.7 765.1 L186 775.5 L175 780.3"/>
<ellipse class="k" cx="138.4" cy="745.1" rx="2.6" ry="1.3" transform="rotate(10 138.4 745.1)"/>
<ellipse class="k" cx="175.7" cy="764.8" rx="2.6" ry="1.3" transform="rotate(10 175.7 764.8)"/>
<path class="k" d="M184.7 765.1 L190 762 L196.9 768.7 M186 775.5 L193.5 778.5 L199 776.5 M190 762 L189.5 753 M193.5 770 a2 2.8 0 1 0 0.1 0 M200 771 Q203 766 205 772 L205.2 776.3 M201.5 771.5 L201.5 777"/>
<path class="k" d="M169.5 747.1 L184 758 M176 752.5 L188 761"/>
<g class="lb"><text x="133.3" y="501.6" textLength="24" lengthAdjust="spacingAndGlyphs">020</text><path d="M159.3 506.8L133.3 506.8L172.3 553.8"/><circle cx="172.3" cy="553.8" r="2" fill="#111"/></g>
<!-- 31_pulley.svg -->
<path class="k" d="M137 764L134.4 867.3"/>
<path class="k" d="M175.5 780.5L172.1 890"/>
<ellipse class="b" cx="136.9" cy="785.1" rx="5.6" ry="4.2"/>
<ellipse class="k" style="stroke:#ddd;stroke-width:0.9" cx="136.9" cy="783.9" rx="2.2" ry="1.1"/>
<path class="k2" d="M131.4 784.6 l0 -3 l3.5 -1.5 l4 0 l3.5 1.5 l0 3"/>
<ellipse class="b" cx="174.7" cy="804.4" rx="5.6" ry="4.2"/>
<ellipse class="k" style="stroke:#ddd;stroke-width:0.9" cx="174.7" cy="803.2" rx="2.2" ry="1.1"/>
<path class="k2" d="M169.2 803.9 l0 -3 l3.5 -1.5 l4 0 l3.5 1.5 l0 3"/>
<path class="k" d="M133.8 806.9 L138.4 806.9 L138.2 829.5 L133.6 829.5 Z"/>
<path class="k2" d="M133.8 808.3L138.4 808.3"/>
<path class="k" d="M133.8 815.9L138.4 815.9"/>
<ellipse class="b" cx="135.5" cy="833" rx="5.6" ry="3.6"/>
<ellipse class="k" style="stroke:#ddd;stroke-width:0.9" cx="135.5" cy="833.7" rx="2.6" ry="1.2"/>
<path class="k2" d="M130.3 832.1 l0 -3.2 l3 -1.2 l4.4 0 l3 1.2 l0 3.2"/>
<path class="k" d="M171.5 827 L176.1 827 L175.9 850 L171.3 850 Z"/>
<path class="k2" d="M171.5 828.4L176.1 828.4"/>
<path class="k" d="M171.5 836L176.1 836"/>
<ellipse class="b" cx="173.2" cy="853.5" rx="5.6" ry="3.6"/>
<ellipse class="k" style="stroke:#ddd;stroke-width:0.9" cx="173.2" cy="854.2" rx="2.6" ry="1.2"/>
<path class="k2" d="M168 852.6 l0 -3.2 l3 -1.2 l4.4 0 l3 1.2 l0 3.2"/>
<g class="lb"><text x="100.9" y="774.4" textLength="25" lengthAdjust="spacingAndGlyphs">022</text><path d="M127.7 779.6L101.7 779.8L130.5 784.8"/></g>
<g class="lb"><text x="100.9" y="819.7" textLength="21" lengthAdjust="spacingAndGlyphs">021</text><path d="M124.4 824.2L101.7 824.2L129.4 833.8"/></g>
<path class="k2" d="M284.6 727.2A10.6 16.4 18 0 0 274.4 758.4"/>
<path class="k" d="M287.6 729.7A9.8 15 18 0 0 278.4 758.3"/>
<path class="k" d="M290.5 731.3A9.6 14.6 18 0 0 281.5 759.1"/>
<path class="k2" d="M284.5 727.2 L296.7 732.5 M274.5 758.5 L286.8 763.2"/>
<ellipse class="w2" style="fill:none" cx="291.8" cy="747.8" rx="10.8" ry="16" transform="rotate(18 291.8 747.8)"/>
<ellipse class="k3" cx="291.6" cy="748" rx="3" ry="4.7" transform="rotate(18 291.6 748)"/>
<circle class="b" cx="272.7" cy="752.9" r="1.9"/>
<path class="b" d="M276 771 L279.5 769.5 L280.3 776 L277 777.2Z"/>
<g class="lb"><text x="282" y="699.6" textLength="25" lengthAdjust="spacingAndGlyphs">025</text><path d="M308.5 704.6L282.8 704.6L261 733.6M282.8 704.6L274.6 695"/></g>
<g class="lb"><text x="235.9" y="777.4" textLength="25" lengthAdjust="spacingAndGlyphs">023</text><path d="M235.9 782.6L262.7 782.6L272.7 752.9"/></g>
<g class="lb"><text x="286.2" y="798.5" textLength="24.5" lengthAdjust="spacingAndGlyphs">024</text><path d="M313 803.7L286.2 803.7L278.6 776.4"/></g>
<path class="k" d="M291.2 712.7L326.4 730.3"/>
<path class="k" d="M292.9 749.6L324 767"/>
<ellipse class="b" cx="316.3" cy="725.3" rx="3.3" ry="5" transform="rotate(-18 316.3 725.3)"/><ellipse class="k" style="stroke:#ddd;stroke-width:0.9" cx="316.7" cy="725.3" rx="1" ry="1.5" transform="rotate(-18 316.7 725.3)"/>
<ellipse class="b" cx="315.5" cy="763" rx="3.3" ry="5" transform="rotate(-18 315.5 763)"/><ellipse class="k" style="stroke:#ddd;stroke-width:0.9" cx="315.9" cy="763" rx="1" ry="1.5" transform="rotate(-18 315.9 763)"/>
<g class="lb"><text x="318" y="705.8" textLength="21" lengthAdjust="spacingAndGlyphs">031</text><path d="M341.5 711L318 711L317.2 719.5"/></g>
<path class="k2" d="M326.4 737 L349 748.7 L346.5 751.5 L339 747.6 L339 776.4 L333 779.6 L347 786.5 L345.5 790.3 L322.2 779.5 L322.2 773.9 Q330.5 770 330.6 764 Q330.8 758 326 754 Q321.8 750.5 322.2 747.1 L323 738.7 Z"/>
<path class="k" d="M323 738.7 L337 746 L339 747.6 M336.5 745.5 L336.5 777.5 M322.2 779.5 L325 777 L333 779.6 M326.4 737 L329 739.5"/>
<ellipse class="k" cx="333.9" cy="773.6" rx="1.6" ry="2.4" transform="rotate(20 333.9 773.6)"/>
<ellipse class="b" cx="336.7" cy="734.3" rx="3" ry="3.6"/><ellipse class="k" style="stroke:#ddd;stroke-width:0.9" cx="337.1" cy="734.3" rx="0.9" ry="1.1"/>
<g class="lb"><text x="345.7" y="714.2" textLength="24.3" lengthAdjust="spacingAndGlyphs">026</text><path d="M371.7 719.4L345.7 719.4L338.5 731"/></g>
<path class="k" style="fill:none" d="M368.2 751.1L348.4 741.3L346.4 745.5L366.2 755.3Z"/><path class="k2" d="M359.3 746.7L357.3 750.9"/><path class="k2" d="M348.4 741.3L346.4 745.5"/><ellipse class="b" cx="367.2" cy="753.2" rx="3.1" ry="5.6" transform="rotate(-153.7 367.2 753.2)"/><ellipse class="b" cx="369.5" cy="754.4" rx="3.1" ry="4.8" transform="rotate(-153.7 369.5 754.4)"/><ellipse class="k" style="stroke:#fff;stroke-width:1.1" cx="369.9" cy="754.5" rx="1.7" ry="2.8" transform="rotate(-153.7 369.9 754.5)"/>
<path class="k" style="fill:none" d="M367.3 789L346.8 777.7L344.6 781.7L365.1 793Z"/><path class="k2" d="M358.1 783.9L355.9 787.9"/><path class="k2" d="M346.8 777.7L344.6 781.7"/><ellipse class="b" cx="366.2" cy="791" rx="3.1" ry="5.6" transform="rotate(-151.1 366.2 791)"/><ellipse class="b" cx="368.5" cy="792.3" rx="3.1" ry="4.8" transform="rotate(-151.1 368.5 792.3)"/><ellipse class="k" style="stroke:#fff;stroke-width:1.1" cx="368.8" cy="792.4" rx="1.7" ry="2.8" transform="rotate(-151.1 368.8 792.4)"/>
<g class="lb"><text x="379.2" y="804.2" textLength="25" lengthAdjust="spacingAndGlyphs">027</text><path d="M369.5 795.5L380.5 809.5L406.5 809.5"/></g>
<!-- 40_column.svg -->
<path class="w" style="stroke:none" d="M559.7 432 Q563 420 571.5 418.9 Q577 419.5 578 425.5 L573.9 443.8 L557.3 501.8 L558.5 511.2 L551.4 511.8 L547.9 518.3 L531.3 518.3 L527.8 506.5 L530.1 501.2 L536.6 500.6 Z"/>
<path class="k2" d="M559.7 432 Q563 420 571.5 418.9 Q577 419.5 578 425.5 M561.5 433 Q565 422.5 572 421.3 Q575.5 421.8 576 426"/>
<path class="k3" d="M559.7 432 L536.6 500.6 L530.1 501.2 L527.8 506.5 L531.3 518.3 L547.9 518.3"/>
<path class="k" d="M561.8 433 L538.5 502"/>
<path class="k2" d="M573.9 443.8 L557.3 501.8 L558.5 511.2 L551.4 511.8 M571.8 443 L555.2 500.5"/>
<ellipse class="k2" cx="538.4" cy="510" rx="1.7" ry="2.4" transform="rotate(25 538.4 510)"/>
<ellipse class="k2" cx="543.7" cy="510" rx="1.7" ry="2.4" transform="rotate(25 543.7 510)"/>
<ellipse class="k2" cx="549" cy="510" rx="1.7" ry="2.4" transform="rotate(25 549 510)"/>
<ellipse class="b" cx="559.7" cy="460.4" rx="2.4" ry="3.2" transform="rotate(20 559.7 460.4)"/>
<path class="w" style="stroke:none" d="M581 439 Q584 431 591.7 430.2 Q597 430.5 598.2 434.5 L594.6 453.3 L577.5 512.4 L581 513.6 L578.6 521.9 L570.4 530.8 L551.4 528.4 L549 518.3 L558 511.5 L559.7 501.8 Z"/>
<path class="k2" d="M581 439 Q584 431 591.7 430.2 Q597 430.5 598.2 434.5 M583 440 Q586 433.5 592 432.6 Q595.5 433 596.2 435.5"/>
<path class="k3" d="M581 439 L559.7 501.8 L558 511.5 L549 518.3 L551.4 528.4 L570.4 530.8 L578.6 521.9 L581 513.6 L577.5 512.4"/>
<path class="k" d="M583 440 L561.8 502.5"/>
<path class="k2" d="M594.6 453.3 L577.5 512.4"/>
<path class="k" d="M557.3 515.4 L576.3 516 L571.5 528.4 L554.4 526.6 Z M559.5 517.3 L574 517.8 L570 526.3 L557 525 Z"/>
<ellipse class="k2" cx="562.7" cy="521.9" rx="1.5" ry="1.9" transform="rotate(15 562.7 521.9)"/>
<ellipse class="k2" cx="566.8" cy="521.9" rx="1.5" ry="1.9" transform="rotate(15 566.8 521.9)"/>
<ellipse class="k2" cx="570.6" cy="521.9" rx="1.5" ry="1.9" transform="rotate(15 570.6 521.9)"/>
<ellipse class="b" cx="581" cy="471.6" rx="3.1" ry="3.8" transform="rotate(20 581 471.6)"/>
<path class="k2" d="M532.1 545.9 L551.9 552.8 L472 799.5 Q461 800.5 451.3 794.6 Z"/>
<path class="k" d="M534 551 L536.5 543 M549.5 556.5 L551.9 552.8"/>
<ellipse class="k2" cx="546" cy="538" rx="9.8" ry="3" transform="rotate(8 546 538)"/>
<ellipse class="k2" cx="546" cy="539.6" rx="9.8" ry="3" transform="rotate(8 546 539.6)"/>
<path class="k2" d="M541 538 L550 539 M543.5 541.5 L543 547.5 M548.5 542.3 L548.2 549.5"/>
<ellipse class="k2" cx="546" cy="565.7" rx="4.3" ry="6.3" transform="rotate(18 546 565.7)"/>
<ellipse class="k3" cx="546.4" cy="565.7" rx="1.9" ry="2.9" transform="rotate(18 546.4 565.7)"/>
<ellipse class="k2" cx="530.2" cy="615" rx="4.3" ry="6.3" transform="rotate(18 530.2 615)"/>
<ellipse class="k3" cx="530.6" cy="615" rx="1.9" ry="2.9" transform="rotate(18 530.6 615)"/>
<path class="k3" d="M527.7 551.7A3 5.6 18 0 0 524.3 562.3"/>
<path class="k3" d="M512 601A3 5.6 18 0 0 508.6 611.6"/>
<g class="lb"><text x="552.9" y="634.4" textLength="22.6" lengthAdjust="spacingAndGlyphs">003</text><path d="M578.5 639.6L552.9 639.6L515.4 639.6"/><circle cx="515.4" cy="639.6" r="2" fill="#111"/></g>
<path class="k" d="M515.4 639.6L553 639.6"/>
<g class="lb"><text x="573.6" y="548.7" textLength="21.7" lengthAdjust="spacingAndGlyphs">015</text><path d="M553.8 542Q563 550 575.5 553.8L597.2 553.8"/></g>
<path class="k3" d="M444.4 528.2 l12.8 -14.8 l23.7 0 l-3.5 4.5 l-3.4 9.3 l-8 2.5 l-10 -3.5 Z"/>
<path class="k2" d="M447.4 527.7 l10 -12 l8 1 l-12 12 M457.4 515.7 l17 -1 M458.4 524.2 l4 -5"/>
<ellipse class="w3" cx="469.2" cy="525.2" rx="3.6" ry="4.8" transform="rotate(20 469.2 525.2)"/>
<ellipse class="k2" cx="469.7" cy="525.2" rx="1.5" ry="2.2" transform="rotate(20 469.7 525.2)"/>
<path class="k3" d="M423.7 575.5 l12.8 -14.8 l23.7 0 l-3.5 4.5 l-3.4 9.3 l-8 2.5 l-10 -3.5 Z"/>
<path class="k2" d="M426.7 575 l10 -12 l8 1 l-12 12 M436.7 563 l17 -1 M437.7 571.5 l4 -5"/>
<ellipse class="w3" cx="448.5" cy="572.5" rx="3.6" ry="4.8" transform="rotate(20 448.5 572.5)"/>
<ellipse class="k2" cx="449" cy="572.5" rx="1.5" ry="2.2" transform="rotate(20 449 572.5)"/>
<g class="lb"><text x="471" y="497.3" textLength="21.7" lengthAdjust="spacingAndGlyphs">013</text><path d="M494.7 502.5L471 502.5L468 512.4"/></g>
<path class="k" d="M474 527.2L479 530"/>
<path class="k" d="M453 574.5L459 577.5"/>
<path class="k" style="fill:none" d="M483 534.1L515.4 550.8L517.4 547L485 530.3Z"/><path class="k2" d="M486.9 536.1L488.9 532.3"/><path class="k2" d="M515.4 550.8L517.4 547"/><ellipse class="b" cx="484" cy="532.2" rx="3.1" ry="5.6" transform="rotate(27.3 484 532.2)"/><ellipse class="b" cx="481.7" cy="531" rx="3.1" ry="4.8" transform="rotate(27.3 481.7 531)"/><ellipse class="k" style="stroke:#fff;stroke-width:1.1" cx="481.3" cy="530.8" rx="1.7" ry="2.8" transform="rotate(27.3 481.3 530.8)"/>
<path class="k" d="M516.4 548.9L526 554"/>
<path class="k" style="fill:none" d="M463.3 581.5L496.6 598.1L498.6 594.3L465.3 577.7Z"/><path class="k2" d="M467.3 583.5L469.3 579.7"/><path class="k2" d="M496.6 598.1L498.6 594.3"/><ellipse class="b" cx="464.3" cy="579.6" rx="3.1" ry="5.6" transform="rotate(26.5 464.3 579.6)"/><ellipse class="b" cx="462" cy="578.4" rx="3.1" ry="4.8" transform="rotate(26.5 462 578.4)"/><ellipse class="k" style="stroke:#fff;stroke-width:1.1" cx="461.6" cy="578.3" rx="1.7" ry="2.8" transform="rotate(26.5 461.6 578.3)"/>
<path class="k" d="M497.6 596.2L509.5 602.5"/>
<g class="lb"><text x="498.6" y="522" textLength="20.8" lengthAdjust="spacingAndGlyphs">016</text><path d="M523.3 527.2L498.6 527.2L487.5 531.7"/></g>
<path class="k" d="M463.1 641.7 C452 636.5 441 641 442.4 651.5 C444.5 667 462 686 483.8 692"/>
<path class="k" d="M463.1 641.7 L498.6 660.4 L492.7 673.3 L459.2 656.5 Q455 650 457.5 645 Q460 641 463.1 641.7"/>
<path class="k" d="M459.2 656.5 Q462 668 474.5 676"/>
<ellipse class="k" cx="478.2" cy="681.1" rx="4" ry="6.6" transform="rotate(18 478.2 681.1)"/>
<path class="k" d="M476 675 L487 668.5 M480.5 687.5 L484.5 685"/>
<path class="k3" d="M485 683 Q483 688 485.5 691"/>
<path class="k" d="M494.7 668.3L520.3 678.2"/>
<ellipse class="k2" cx="525.2" cy="680.2" rx="4.6" ry="7.4" transform="rotate(20 525.2 680.2)"/>
<circle class="b" cx="526" cy="680.6" r="1.7"/>
<g class="lb"><text x="546" y="679" textLength="21.7" lengthAdjust="spacingAndGlyphs">014</text><path d="M529.2 681.1Q538 684 546.9 684.1L569.6 684.1"/></g>
<path class="k" style="fill:none" d="M419.9 722.6L445.4 735.3L447.4 731.5L421.9 718.8Z"/><path class="k2" d="M428.9 727.1L430.8 723.2"/><path class="k2" d="M445.4 735.3L447.4 731.5"/><ellipse class="b" cx="420.9" cy="720.7" rx="3.2" ry="5.8" transform="rotate(26.5 420.9 720.7)"/><ellipse class="b" cx="418.6" cy="719.5" rx="3.2" ry="4.9" transform="rotate(26.5 418.6 719.5)"/><ellipse class="k" style="stroke:#fff;stroke-width:1.1" cx="418.2" cy="719.4" rx="1.7" ry="2.9" transform="rotate(26.5 418.2 719.4)"/>
<path class="k" d="M446.4 733.4L467.1 744.3"/>
<path class="k" style="fill:none" d="M409.2 757.1L433.6 768.8L435.4 765L411 753.3Z"/><path class="k2" d="M417.7 761.2L419.6 757.4"/><path class="k2" d="M433.6 768.8L435.4 765"/><ellipse class="b" cx="410.1" cy="755.2" rx="3.2" ry="5.8" transform="rotate(25.6 410.1 755.2)"/><ellipse class="b" cx="407.8" cy="754.1" rx="3.2" ry="4.9" transform="rotate(25.6 407.8 754.1)"/><ellipse class="k" style="stroke:#fff;stroke-width:1.1" cx="407.4" cy="753.9" rx="1.7" ry="2.9" transform="rotate(25.6 407.4 753.9)"/>
<path class="k" d="M434.5 766.9L456.2 777.8"/>
<g class="lb"><text x="445.4" y="710.1" textLength="20.2" lengthAdjust="spacingAndGlyphs">017</text><path d="M469 715.3L445.4 715.3L431.6 722.6"/><circle cx="431.6" cy="722.6" r="1.6" fill="#111"/></g>
<ellipse class="k2" cx="483.8" cy="754.1" rx="1.8" ry="2.8" transform="rotate(18 483.8 754.1)"/>
<ellipse class="b" cx="473" cy="787.7" rx="2" ry="3" transform="rotate(18 473 787.7)"/>
<path class="k" d="M486 755.3L511 766.6"/>
<path class="k" d="M475 789.6L497 801"/>
<ellipse class="b" cx="516.4" cy="768.9" rx="4.6" ry="6.2" transform="rotate(15 516.4 768.9)"/>
<ellipse class="b" cx="518" cy="769.5" rx="3.4" ry="4.8" transform="rotate(15 518 769.5)"/>
<ellipse class="k" style="stroke:#fff;stroke-width:1.1" cx="518.6" cy="769.7" rx="1.7" ry="2.5" transform="rotate(15 518.6 769.7)"/>
<ellipse class="b" cx="501.6" cy="803.4" rx="4.6" ry="6.2" transform="rotate(15 501.6 803.4)"/>
<ellipse class="b" cx="503.2" cy="804" rx="3.4" ry="4.8" transform="rotate(15 503.2 804)"/>
<ellipse class="k" style="stroke:#fff;stroke-width:1.1" cx="503.8" cy="804.2" rx="1.7" ry="2.5" transform="rotate(15 503.8 804.2)"/>
<path class="k" d="M506.5 806.4 L518.3 811.3 L506.5 820.5"/>
<g class="lb"><text x="536.1" y="751.3" textLength="22" lengthAdjust="spacingAndGlyphs">019</text><path d="M559.8 756.5L536.1 756.5L518.5 764"/></g>
<!-- 41_leg.svg -->
<path class="k2" d="M787.9 671.4 L784.5 775.8 Q784.8 787 794.7 791.8 L839.3 816.6 Q845 818 846.8 812 Q847.5 806.5 842.2 805 L798.4 780.9 Q795.6 779 795.5 775.8 L799.4 671.4"/>
<ellipse class="k2" cx="793.6" cy="671" rx="5.8" ry="2.6"/>
<path class="k" d="M784.5 775.8 Q790 779.5 795.5 775.8 M790.5 789 Q791 782.5 798.4 780.9"/>
<circle class="b" cx="794" cy="680.9" r="1.7"/>
<path class="k2" d="M797.6 687.4 q-3.2 0.4 -3.6 3 q0.2 2 2.6 1.2"/>
<path class="k2" d="M797.6 710.8 q-3.2 0.4 -3.6 3 q0.2 2 2.6 1.2"/>
<path class="k2" d="M797.6 733.4 q-3.2 0.4 -3.6 3 q0.2 2 2.6 1.2"/>
<g class="lb"><text x="820" y="674.4" textLength="20.7" lengthAdjust="spacingAndGlyphs">010</text><path d="M794.7 680.9L842.2 679.1"/></g>
<path class="k2" d="M757.5 698.3 L775.5 705.9 M759.5 693.7 L777.5 701.3 M775.5 705.9L777.5 701.3"/>
<ellipse class="b" cx="757.6" cy="695.6" rx="2.4" ry="3.3" transform="rotate(22 757.6 695.6)"/>
<ellipse class="b" cx="776.2" cy="703.5" rx="1.6" ry="2.6" transform="rotate(22 776.2 703.5)"/>
<g class="lb"><text x="753.1" y="670.6" textLength="21.5" lengthAdjust="spacingAndGlyphs">012</text><path d="M776.5 675.8L753.1 675.8L756.8 691.1"/></g>
<path class="k2" d="M807.9 726.1 L809.3 709.5 Q810 704.8 813.2 704.8 Q816.8 705.2 816.6 709 Q816 712.5 813 715.9 Q816.5 718.5 815 721.5 Q813.8 724 811.5 723.5 M810.2 724.5 L811.5 710.5 Q812 707.2 813.5 707.5"/>
<g class="lb"><text x="820" y="714.6" textLength="17.8" lengthAdjust="spacingAndGlyphs">011</text><path d="M814.5 717.5L818 719.6L840.7 719.6"/></g>
<!-- 50_frame.svg -->
<path class="k" d="M79.4 840L137.6 871.6"/>
<path class="k" d="M134.7 840L134.3 867.6"/>
<path class="k" d="M172.1 851L172.1 888.3"/>
<path class="k" d="M167.2 887.3L197.8 903.1"/>
<path class="k" d="M132.7 901.1L131.7 926.8"/>
<path class="k" d="M169.2 921.9L170.2 946.5"/>
<path class="k" d="M101.1 912L105.5 914.3"/>
<path class="k" d="M118 921.6L124 924.5"/>
<path class="k" d="M208.7 981.5L360.6 901.4"/>
<path class="k" d="M265.1 964.3L306.3 944.8"/>
<path class="k" d="M220.6 942.6L298.7 983.8"/>
<path class="k" d="M285.7 950.2L315 965.4"/>
<path class="k" d="M311.7 919.8L361.6 944.8"/>
<path class="k" d="M328 1000L364.9 1019.6"/>
<path class="k" d="M387.7 980.6L404 989.2"/>
<path class="k" d="M321.5 885.1L347.5 898.1"/>
<path class="k" d="M229.3 920.9L256.4 933.9"/>
<path class="k" d="M280.3 930.7L298 939.5"/>
<path class="k" d="M420 894.9L362.7 944.8"/>
<path class="k" d="M390.9 917.6L402.9 927.4"/>
<path class="k" d="M186 880.4L215 895"/>
<path class="k" d="M262 864L268 867"/>
<path class="k2" d="M120.9 930.7 L243.4 875.3 L265.1 886.2 L265.1 890.5 L142.6 941.6 Z"/>
<path class="k" d="M144.5 943.6 L265.1 893 M142.6 941.6 L141.6 956.4 L146 958.8 M141.6 956.4 L150 952.5"/>
<ellipse class="k2" cx="132.7" cy="929.7" rx="4.2" ry="1.9" transform="rotate(-27 132.7 929.7)"/>
<ellipse class="k2" cx="141.6" cy="934.3" rx="4.2" ry="1.9" transform="rotate(-27 141.6 934.3)"/>
<ellipse class="k2" cx="157.4" cy="926.8" rx="4.2" ry="1.9" transform="rotate(-27 157.4 926.8)"/>
<ellipse class="k2" cx="210.6" cy="893.3" rx="4.2" ry="1.9" transform="rotate(-27 210.6 893.3)"/>
<ellipse class="k2" cx="219.5" cy="898.2" rx="4.2" ry="1.9" transform="rotate(-27 219.5 898.2)"/>
<ellipse class="k2" cx="205.7" cy="904.1" rx="4.2" ry="1.9" transform="rotate(-27 205.7 904.1)"/>
<ellipse class="k2" cx="249.9" cy="884" rx="1.8" ry="1.1"/>
<path class="k2" d="M155.4 950.5 L279.2 894.9 L298.7 904.6 L298.7 907 L176.1 960.3 Z"/>
<path class="k" d="M178 962.5 L298.7 909.5 M155.4 950.5 L156.4 965.2 L178.1 982 L240 954.4 M176.1 960.3 L177.8 966.5 M156.4 965.2 L160 963.5 M166 972.8 L162 960.5"/>
<ellipse class="k2" cx="170.2" cy="949.5" rx="4.2" ry="1.9" transform="rotate(-27 170.2 949.5)"/>
<ellipse class="k2" cx="180" cy="954" rx="4.2" ry="1.9" transform="rotate(-27 180 954)"/>
<ellipse class="k2" cx="186" cy="942.6" rx="4.2" ry="1.9" transform="rotate(-27 186 942.6)"/>
<ellipse class="k2" cx="248.8" cy="914.4" rx="4.2" ry="1.9" transform="rotate(-27 248.8 914.4)"/>
<ellipse class="k2" cx="257.5" cy="918.7" rx="4.2" ry="1.9" transform="rotate(-27 257.5 918.7)"/>
<ellipse class="k2" cx="235.8" cy="919.8" rx="4.2" ry="1.9" transform="rotate(-27 235.8 919.8)"/>
<ellipse class="k2" cx="280.3" cy="900.3" rx="1.8" ry="1.1"/>
<path class="k" d="M200 927.4 L228 915 M243 954 L300 927"/>
<path class="k2" d="M265.1 890.5 L265.1 866.6 L271.5 864 L272.5 873 L275 874.5 L276 863 Q279 860 281.5 862.5 L282.5 877 L279.2 879 L279.2 894.9 M286 872 Q291 869 294 872 L296 883.5 L292 886 L291.5 875.5 M296 869 L298 885 L302 887"/>
<path class="k2" d="M299.5 875.3 L300.3 868.6 L323.8 857.7 L337.2 855.2 L348.9 850.2 L385.8 868.6 L384.1 872 L375.7 876.2 L364 870.3 L338.9 858.6 L337.2 855.2"/>
<path class="k3" d="M315.4 874.5 L338.9 864.4 L360.6 869.5 L375.7 876.2"/>
<path class="k2" d="M360.6 869.5 L361.5 900.5 M375.7 876.2 L374.1 903.8 M366 856.5 L389.1 858.6 L388.3 883.7 M385.8 868.6 L388.6 869.5 M300.3 886.2 L315.4 879.5 L317.9 882.9 L317.1 889.6 L312 892.1 L300.3 886.8 M299.5 875.3 L300.3 886.2 M361.5 900.5 L300 929"/>
<ellipse class="k2" cx="313.4" cy="885.2" rx="2.2" ry="1.4"/>
<circle class="b" cx="353" cy="854.7" r="1.6"/>
<ellipse class="w3" cx="376.6" cy="856" rx="7.4" ry="3.7"/>
<ellipse class="k2" cx="376.6" cy="855.6" rx="4.6" ry="2.1"/>
<path class="k2" d="M369.2 856.5 L369.4 861.2 M384 856.5 L384 860.5"/>
<path class="k2" d="M350.7 880.9 L371.3 891.2 M353.1 876.3 L373.7 886.6"/>
<ellipse class="k2" cx="351.9" cy="878.6" rx="1.6" ry="2.6" transform="rotate(25 351.9 878.6)"/>
<path class="k2" d="M375.6 913.4 L387.8 919.5 M378 908.8 L390.2 914.9"/>
<ellipse class="k2" cx="389.3" cy="917.4" rx="1.6" ry="2.6" transform="rotate(25 389.3 917.4)"/>
<path class="k2" d="M328 916.5 L316.1 969.7 Q316.5 976 323 976.5 Q329 976 330.2 971.9 L343.2 915.5 M331 917 L319.5 968 M340.3 916.5 L328 969"/>
<ellipse class="k2" cx="323.2" cy="970" rx="1.8" ry="2.6" transform="rotate(20 323.2 970)"/>
<path class="k2" d="M375.7 887.3 L349.7 989.2 Q350.5 996.5 357 997 Q363.5 996.5 364.9 991.4 L388.8 891.6 Q389.5 884 383.5 882.5 Q377.5 882.5 375.7 887.3 M378.8 889 L353 989 M385.8 892.5 L361.8 991"/>
<ellipse class="k2" cx="384" cy="889.4" rx="1.9" ry="2.8" transform="rotate(20 384 889.4)"/>
<ellipse class="k2" cx="358" cy="988.3" rx="1.9" ry="2.8" transform="rotate(20 358 988.3)"/>
<path class="k" d="M328 950.2L356.2 963.2"/>
<path class="k3" style="stroke-width:6.6;stroke-linecap:round" d="M393.3 886 L404.6 905.3"/>
<path class="k3" style="stroke:#fff;stroke-width:3.4;stroke-dasharray:0.6 2.1;stroke-linecap:butt" d="M393.3 886 L404.3 905.3"/>
<path class="k2" d="M392 884 L394.5 882.5 M404.5 908.5 L403.5 905.5"/>
<g class="lb"><text x="402.9" y="879.2" textLength="24.5" lengthAdjust="spacingAndGlyphs">033</text><path d="M396.4 888.3L401.8 884L428 884"/></g>
<g class="lb"><text x="349.7" y="837.1" textLength="24.5" lengthAdjust="spacingAndGlyphs">032</text><path d="M375.7 842.3L349.7 842.3L353 854.7"/></g>
<ellipse class="b" cx="206.5" cy="981" rx="4.2" ry="4.6"/>
<ellipse class="k" style="stroke:#fff;stroke-width:1" cx="207.3" cy="980.7" rx="1.7" ry="1.9"/>
<ellipse class="b" cx="254.2" cy="961" rx="4.2" ry="4.6"/>
<ellipse class="k" style="stroke:#fff;stroke-width:1" cx="255" cy="960.7" rx="1.7" ry="1.9"/>
<ellipse class="b" cx="297.6" cy="940.4" rx="4.2" ry="4.6"/>
<ellipse class="k" style="stroke:#fff;stroke-width:1" cx="298.4" cy="940.1" rx="1.7" ry="1.9"/>
<ellipse class="b" cx="350.8" cy="916.5" rx="4.2" ry="4.6"/>
<ellipse class="k" style="stroke:#fff;stroke-width:1" cx="351.6" cy="916.2" rx="1.7" ry="1.9"/>
<ellipse class="b" cx="237.2" cy="851.8" rx="4.2" ry="4.6"/>
<ellipse class="k" style="stroke:#fff;stroke-width:1" cx="238" cy="851.5" rx="1.7" ry="1.9"/>
<ellipse class="k2" cx="305.5" cy="917.5" rx="1.4" ry="2.2" transform="rotate(20 305.5 917.5)"/>
<ellipse class="k2" cx="311.5" cy="919.5" rx="1.4" ry="2.2" transform="rotate(20 311.5 919.5)"/>
<ellipse class="k2" cx="322.5" cy="885" rx="1.4" ry="2.2" transform="rotate(20 322.5 885)"/>
<ellipse class="k2" cx="309" cy="878" rx="1.3" ry="2" transform="rotate(20 309 878)"/>
<circle class="b" cx="258.5" cy="926.5" r="1.5"/>
<circle class="b" cx="280.5" cy="931" r="1.3"/>
<g class="lb"><text x="218.4" y="983.6" textLength="24.5" lengthAdjust="spacingAndGlyphs">029</text><path d="M245.6 988.8L218.4 988.8L208.7 982.7"/></g>
<path class="k" style="fill:none" d="M160.5 870.2L185.2 882L186.8 878.8L162.1 867Z"/><path class="k2" d="M174.1 876.7L175.7 873.5"/><path class="k2" d="M185.2 882L186.8 878.8"/><ellipse class="b" cx="161.3" cy="868.6" rx="2.6" ry="4.8" transform="rotate(25.5 161.3 868.6)"/><ellipse class="b" cx="159" cy="867.5" rx="2.6" ry="4.1" transform="rotate(25.5 159 867.5)"/><ellipse class="k" style="stroke:#fff;stroke-width:1.1" cx="158.6" cy="867.3" rx="1.4" ry="2.4" transform="rotate(25.5 158.6 867.3)"/>
<path class="k" style="fill:none" d="M236.7 853L261.2 865.6L262.8 862.4L238.3 849.8Z"/><path class="k2" d="M250.2 859.9L251.8 856.7"/><path class="k2" d="M261.2 865.6L262.8 862.4"/><ellipse class="b" cx="237.5" cy="851.4" rx="2.6" ry="4.8" transform="rotate(27.2 237.5 851.4)"/><ellipse class="b" cx="235.2" cy="850.2" rx="2.6" ry="4.1" transform="rotate(27.2 235.2 850.2)"/><ellipse class="k" style="stroke:#fff;stroke-width:1.1" cx="234.8" cy="850" rx="1.4" ry="2.4" transform="rotate(27.2 234.8 850)"/>
<path class="k" style="fill:none" d="M66.7 895.8L90.4 908.7L92.2 905.5L68.5 892.6Z"/><path class="k2" d="M79.8 902.9L81.5 899.7"/><path class="k2" d="M90.4 908.7L92.2 905.5"/><ellipse class="b" cx="67.6" cy="894.2" rx="2.6" ry="4.8" transform="rotate(28.6 67.6 894.2)"/><ellipse class="b" cx="65.3" cy="893" rx="2.6" ry="4.1" transform="rotate(28.6 65.3 893)"/><ellipse class="k" style="stroke:#fff;stroke-width:1.1" cx="65" cy="892.8" rx="1.4" ry="2.4" transform="rotate(28.6 65 892.8)"/>
<path class="k" d="M91.3 907.1L101.1 912"/>
<path class="k2" d="M103.3 919.7 L114.2 925.2 M107.9 910.7 L118.8 916.2"/>
<path class="k2" d="M107.5 910.6A2.4 5 25 0 0 103.3 919.6"/>
<ellipse class="k2" cx="116.9" cy="920.9" rx="3" ry="5" transform="rotate(25 116.9 920.9)"/>
<ellipse class="k2" cx="117.1" cy="921" rx="1.5" ry="2.5" transform="rotate(25 117.1 921)"/>
<circle class="b" cx="104.1" cy="917.9" r="1.4"/>
<path class="k" style="fill:none" d="M117 890L140.7 901.9L142.5 898.5L118.8 886.6Z"/><path class="k2" d="M131.3 897.1L133 893.7"/><path class="k2" d="M140.7 901.9L142.5 898.5"/><ellipse class="b" cx="117.9" cy="888.3" rx="2.8" ry="5" transform="rotate(26.7 117.9 888.3)"/><ellipse class="b" cx="115.6" cy="887.1" rx="2.8" ry="4.2" transform="rotate(26.7 115.6 887.1)"/><ellipse class="k" style="stroke:#fff;stroke-width:1.1" cx="115.2" cy="887" rx="1.5" ry="2.5" transform="rotate(26.7 115.2 887)"/>
<ellipse class="k2" cx="151.4" cy="906.1" rx="7.4" ry="10.8" transform="rotate(22 151.4 906.1)"/>
<ellipse class="k" cx="150" cy="905.5" rx="7.2" ry="10.6" transform="rotate(22 150 905.5)"/>
<ellipse class="k2" cx="152.6" cy="906.6" rx="2.2" ry="3.3" transform="rotate(22 152.6 906.6)"/>
<circle class="b" cx="152.7" cy="906.7" r="1.2"/>
<path class="k" d="M160.3 908L240 875.5"/>
<g class="lb"><text x="47.9" y="877.8" textLength="24.2" lengthAdjust="spacingAndGlyphs">028</text><path d="M74.5 883L47.9 883L65.6 893.3"/></g>
<g class="lb"><text x="66.6" y="926.1" textLength="22.7" lengthAdjust="spacingAndGlyphs">030</text><path d="M66.6 931.3L91.3 931.3L104.1 917.9"/></g>
<g class="lb"><text x="77.5" y="869.4" textLength="24.6" lengthAdjust="spacingAndGlyphs">085</text><path d="M84.4 870.6L105.1 870.6L152.4 899.2"/></g>
<path class="k2" d="M88.3 938.2 Q84.5 936.8 83.2 940 Q82.5 942.5 84.4 943.6 L93.3 958.3 L154.4 1004.7 Q157 1005.5 158 1003 L159.5 996.5 M88.3 938.2 L150.5 978.1 M86 941.5 L148 981.5 M95.5 958 L155.5 1001 M93.3 958.3 L92.5 955 L97 952.5"/>
<path class="k2" d="M150.5 978.1 Q146 979.5 146.3 984 Q147 988 151.5 988 L176 992.8 Q180.5 992 180.5 988.5 Q180 985 176.5 984.5 L153.5 977.5 M151.5 988 L157 998 L160 996.5 L177 993"/>
<ellipse class="k" cx="152.5" cy="979.8" rx="2.6" ry="1.5" transform="rotate(10 152.5 979.8)"/>
<path class="k" d="M105.1 946.5 L115 942.6 L120 945.5 L111 950 M111 954 L130.7 962.3 L128.5 965.5 L108.5 957"/>
<ellipse class="b" cx="118" cy="955.5" rx="2.2" ry="1.2" transform="rotate(15 118 955.5)"/>
<path class="k" d="M127 938L118 955"/>
<path class="k" d="M163.5 962L152.5 979.5"/>
<circle class="b" cx="99.2" cy="963.3" r="1.4"/>
<g class="lb"><text x="59.7" y="950.7" textLength="21.7" lengthAdjust="spacingAndGlyphs">018</text><path d="M83.4 956.8L60.7 956.8L99.2 963.3"/></g>
<g transform="translate(92.3 985) rotate(-5)">
<path class="b" d="M-4 -1.5 L-4 -4.5 L-1.5 -6 L2 -6 L4 -4.5 L4 -1.5 Z"/>
<path class="k2" d="M-2 -1.5 L-2 6.5 L2 6.5 L2 -1.5"/>
</g>
<g transform="translate(166.5 1009) rotate(20)">
<path class="b" d="M-4 -1.5 L-4 -4.5 L-1.5 -6 L2 -6 L4 -4.5 L4 -1.5 Z"/>
<path class="k2" d="M-2 -1.5 L-2 6.5 L2 6.5 L2 -1.5"/>
</g>
<ellipse class="b" cx="89.3" cy="1007.7" rx="4.3" ry="3.6"/>
<ellipse class="k" style="stroke:#fff;stroke-width:1" cx="89.3" cy="1006.7" rx="2" ry="1.2"/>
<!-- 60_blades.svg -->
<path class="k2" d="M34.7 1034 Q36 1028.5 42.7 1026.1 Q58 1020.5 74.4 1020 Q93 1020 110.7 1025 L147 1042 L170.8 1054.4"/>
<path class="k2" d="M34.7 1034 L33.5 1037 L58.5 1049 L60.8 1052 L73.3 1056.7 Q90 1049 110.7 1044.2 Q124 1042 138 1043.1 L170.5 1054"/>
<path class="k" d="M36 1035.5 L59.5 1047.5 M74.4 1020 L126.6 1042 M88 1021.7 L147 1045.4 M73.3 1055 Q90 1047.5 110.7 1042.6 Q124 1040.5 138 1041.5 M142.5 1045.4 L170.8 1053 M146 1048 L153 1050.5"/>
<ellipse class="b" cx="85.8" cy="1043.3" rx="2.1" ry="1.2"/>
<path class="k2" d="M79 1080.5 Q84 1073.5 94.8 1070.3 Q111 1065 128.9 1064.6 Q143 1064.6 156.1 1068 L182.2 1080.5 L201 1090"/>
<path class="k2" d="M79 1080.5 L79 1083.5 L137.9 1116.5 L140.5 1115.5 Q143 1108 147 1105.5 L149.3 1096.4 L153.8 1094.1 Q168 1087.5 183.3 1085.1 L185.5 1090.7 L201.4 1089.6 L206 1083.2 L210.5 1082.8 L237.7 1091.9 L238.9 1097.5 L233.5 1099.8 L234.5 1102.5 L239 1101.5 L238.9 1111.1 Q215 1097 192.4 1094.1 Q170 1094.5 153.8 1102.1 L147 1105.5"/>
<path class="k" d="M80.5 1081.5 L138.5 1114 M94.8 1087.3 Q110 1077 128.9 1073.7 Q147 1071.5 165.2 1072.6 M140.5 1115.5 Q155 1104 175 1099.5 Q195 1097 213 1101.5 L238 1113 M205 1098 Q222 1102 236 1109.5 M208 1096.5 Q224 1100.5 238 1108 M149.3 1096.4 L152.5 1098.5"/>
<ellipse class="k2" cx="179.9" cy="1090.9" rx="1.4" ry="2.2" transform="rotate(20 179.9 1090.9)"/>
<ellipse class="k2" cx="212.8" cy="1090.3" rx="1.4" ry="2.2" transform="rotate(20 212.8 1090.3)"/>
<path class="k2" d="M102 1072.5 Q107 1070.5 112 1073.5 Q108 1076.5 102 1072.5"/>
<path class="k" d="M153.8 1102.1L187.8 1120.2"/>
<ellipse class="b" cx="155" cy="1032.2" rx="4" ry="3" transform="rotate(10 155 1032.2)"/>
<ellipse class="k" style="stroke:#ddd;stroke-width:0.9" cx="155" cy="1031.2" rx="2" ry="1.1" transform="rotate(10 155 1031.2)"/>
<path class="k2" d="M151.5 1029.5 L158.5 1029.5 L158.8 1033 M151.5 1029.5 L151.2 1033"/>
<path class="k2" d="M213.8 1135.2 L215 1128.4 L243.3 1119.3 L251.2 1121.5 L252.4 1127.2 L270.5 1126.1 L269.5 1120.5 L276.2 1117 L304.5 1128.4 L303.4 1134 L297.7 1135.2 M213.8 1135.2 L219.5 1138.6 Q234 1133 249 1131.8 L278.5 1131.8 L303.4 1140.8"/>
<ellipse class="k2" cx="245.1" cy="1126.1" rx="1.3" ry="2.1" transform="rotate(20 245.1 1126.1)"/>
<ellipse class="k2" cx="278.5" cy="1124.9" rx="1.3" ry="2.1" transform="rotate(20 278.5 1124.9)"/>
<path class="k3" d="M204.7 1149.9 Q208 1144 217.2 1140.8 M204.7 1149.9 L205 1152.5 L264.8 1183.8 L273.9 1182.8 Q281 1177 292.1 1172.6 Q309 1167.5 326.1 1166.9 Q338 1168.5 348.8 1172.6 L364.6 1180.5"/>
<path class="k" d="M206 1151 L266 1181.5 M255.8 1172.6 Q272 1163.5 292.1 1159 Q309 1156 326.1 1156.7 Q337 1158.5 346 1163 L364.6 1180.5 M258 1174.8 Q274 1166 292.5 1161.5 Q309 1158.5 326 1159.2 Q336 1160.5 344.5 1165 M303.4 1140.8 L335.2 1161.2 L364 1179 M224 1139.7 L253.5 1155.6 L298.9 1134"/>
<path class="k2" d="M262 1180 Q277 1170.5 292.3 1166.3 Q309 1162.5 326 1163.2 Q338 1164.5 350 1170"/>
<path class="k" d="M278 1167.5 Q280 1165 284 1166.5 L289 1169.5 Q285 1171 278 1167.5"/>
<path class="k2" d="M286.5 1144.5 L286.5 1147.5 L293 1147.5 L293 1144.5 Z M288 1147.5 L288 1155 L291.6 1155 L291.6 1147.5"/>
<circle class="b" cx="224" cy="1157.8" r="1.4"/>
<g class="lb"><text x="234.2" y="1194.6" textLength="25.5" lengthAdjust="spacingAndGlyphs">054</text><path d="M261.4 1199.8L234.2 1199.8L224 1157.8"/></g>
<path class="b" d="M347 1153 L354.5 1156 L353.5 1159 L346 1156 Z"/>
<path class="k2" d="M348.3 1157.5 L346 1164 L349.5 1165.3 L351.8 1158.8"/>
<g class="lb"><text x="366.9" y="1142.4" textLength="25" lengthAdjust="spacingAndGlyphs">056</text><path d="M394.1 1147.6L366.9 1147.6L353.3 1155.6"/></g>
<path class="b" d="M335 1182 L341.5 1180.8 L343.5 1185 L340.5 1188.5 L335.5 1187 Z"/>
<g class="lb"><text x="369.2" y="1194.6" textLength="22.7" lengthAdjust="spacingAndGlyphs">055</text><path d="M394.2 1199.8L369.2 1199.8L340.8 1187.3"/></g>
<g class="lb"></g>
<ellipse class="b" cx="285.3" cy="1188.7" rx="4.6" ry="3.6"/>
<ellipse class="k" style="stroke:#fff;stroke-width:1" cx="285.3" cy="1187.6" rx="2.4" ry="1.3"/>
<path class="k2" d="M268.2 1212.3 L319.3 1199.8 Q334 1200.5 348.8 1204.3 Q367 1210 382.8 1217.9 Q394 1225 403.2 1233.8 L403.2 1238.4 Q393 1232.5 382.8 1229.3 Q366 1228 348.8 1230.4 Q337 1233 326 1238.4 L317 1238.4 L285.3 1223.6 L281 1217.5 L268.2 1213.5 Z"/>
<path class="k" d="M270 1213.5 L318 1236 L326 1236.3 Q337 1231 348.8 1228.4 Q366 1226 382.8 1227.3 Q393 1230 402 1235.5 M319.3 1199.8 L369.2 1227 M330.5 1200.8 L380.5 1227"/>
<path class="k2" d="M352 1229 l0.5 2.5 m4 -3.2 l0.5 2.5 m5 -3 l0.5 2.5 m5 -2.6 l0.5 2.5 m5 -2.2 l0.6 2.5"/>
<ellipse class="k2" cx="298.9" cy="1210.5" rx="2.1" ry="1.1"/>
<ellipse class="k" cx="356.7" cy="1208.9" rx="1.8" ry="1"/>
<circle class="b" cx="329.5" cy="1228.8" r="1.5"/>
<g class="lb"><text x="353.3" y="1253.6" textLength="25" lengthAdjust="spacingAndGlyphs">053</text><path d="M379.4 1258.8L353.3 1258.8L329.5 1228.8"/></g>
<path class="k" d="M327.2 1122.7L371.4 1102.3"/>
<path class="k" d="M371.4 1102.3L346 1090"/>
<!-- 70_guard.svg -->
<clipPath id="gclip"><path d="M562.6 914.4 L575 911 L587.2 910.7 L598 913.5 L607 919.3 L616 928 L621.8 939 L626 953 L626.7 968.6 L625.5 986 L621.8 1003.1 L615.5 1018.5 L607 1032.7 L597.5 1046 L587.2 1057.4 L575.5 1065 L562.6 1069.7 L550 1073 L537.9 1074.6 L530 1073 L523.1 1069.7 L518 1066 L513.3 1064.8 L503 1066.5 L493.6 1067.2 L482 1067.5 L471.4 1066 L461 1062.5 L451.6 1057.4 L444.5 1050.5 L439.3 1042.6 L435 1033 L433.1 1022.9 L434.5 1012.5 L439.3 1003.1 L446 994 L454.1 985.9 L462.5 979.5 L471.4 973.6 L480 969 L488.6 964.9 L498.5 962 L508.3 958.8 L518.5 953.5 L528.1 946.4 L536 939 L542.9 931.6 L548 926 L552.8 920.5 L557.5 916.5Z"/></clipPath><clipPath id="gclip2"><path d="M488 900H640V1090H498Z"/></clipPath>
<g clip-path="url(#gclip)"><path class="k" d="M388.7 973.4L650.1 873.1"/><path class="k" d="M389.8 976.2L651.2 875.9"/><path class="k" d="M396.9 994.9L658.3 894.5"/><path class="k" d="M398 997.7L659.4 897.4"/><path class="k" d="M405.2 1016.4L666.6 916"/><path class="k" d="M406.2 1019.2L667.6 918.8"/><path class="k" d="M413.4 1037.8L674.8 937.5"/><path class="k" d="M414.5 1040.6L675.9 940.3"/><path class="k" d="M421.6 1059.3L683 959"/><path class="k" d="M422.7 1062.1L684.1 961.8"/><path class="k" d="M429.9 1080.8L691.3 980.4"/><path class="k" d="M431 1083.6L692.4 983.2"/><path class="k" d="M438.1 1102.3L699.5 1001.9"/><path class="k" d="M439.2 1105.1L700.6 1004.7"/><g clip-path="url(#gclip2)"><path class="k" d="M541.8 836.7L637.6 1099.8"/><path class="k" d="M539 837.8L634.7 1100.9"/><path class="k" d="M517.4 845.6L613.1 1108.7"/><path class="k" d="M514.5 846.6L610.3 1109.8"/><path class="k" d="M492.9 854.5L588.7 1117.6"/><path class="k" d="M490.1 855.5L585.9 1118.6"/><path class="k" d="M468.5 863.4L564.3 1126.5"/><path class="k" d="M465.7 864.4L561.4 1127.5"/><path class="k" d="M444.1 872.3L539.8 1135.4"/><path class="k" d="M441.2 873.3L537 1136.4"/><path class="k" d="M419.6 881.2L515.4 1144.3"/><path class="k" d="M416.8 882.2L512.6 1145.3"/><path class="k" d="M395.2 890.1L491 1153.2"/><path class="k" d="M392.4 891.1L488.1 1154.2"/><path class="k" d="M401.7 1065.5L550.1 828.1"/><path class="k" d="M404.2 1067.1L552.6 829.7"/><path class="k" d="M423.7 1079.3L572.1 841.9"/><path class="k" d="M426.3 1080.9L574.7 843.5"/><path class="k" d="M445.8 1093.1L594.2 855.6"/><path class="k" d="M448.3 1094.7L596.7 857.2"/><path class="k" d="M467.8 1106.9L616.2 869.4"/><path class="k" d="M470.4 1108.5L618.8 871"/><path class="k" d="M489.9 1120.6L638.3 883.2"/><path class="k" d="M492.4 1122.2L640.8 884.8"/><path class="k" d="M511.9 1134.4L660.3 897"/><path class="k" d="M514.5 1136L662.9 898.6"/><path class="k" d="M534 1148.2L682.4 910.8"/><path class="k" d="M536.5 1149.8L684.9 912.3"/><path class="k2" d="M488.6 964.9L497 1066"/></g></g>
<path class="k3" d="M562.6 914.4 L575 911 L587.2 910.7 L598 913.5 L607 919.3 L616 928 L621.8 939 L626 953 L626.7 968.6 L625.5 986 L621.8 1003.1 L615.5 1018.5 L607 1032.7 L597.5 1046 L587.2 1057.4 L575.5 1065 L562.6 1069.7 L550 1073 L537.9 1074.6 L530 1073 L523.1 1069.7 L518 1066 L513.3 1064.8 L503 1066.5 L493.6 1067.2 L482 1067.5 L471.4 1066 L461 1062.5 L451.6 1057.4 L444.5 1050.5 L439.3 1042.6 L435 1033 L433.1 1022.9 L434.5 1012.5 L439.3 1003.1 L446 994 L454.1 985.9 L462.5 979.5 L471.4 973.6 L480 969 L488.6 964.9 L498.5 962 L508.3 958.8 L518.5 953.5 L528.1 946.4 L536 939 L542.9 931.6 L548 926 L552.8 920.5 L557.5 916.5Z"/>
<path class="k" d="M561.4 917.9 L573.2 914.6 L584.9 914.4 L595.2 917 L603.8 922.6 L612.4 930.9 L617.9 941.4 L621.9 954.8 L622.6 969.7 L621.4 986.3 L617.9 1002.6 L611.9 1017.3 L603.8 1030.9 L594.7 1043.6 L584.9 1054.5 L573.7 1061.7 L561.4 1066.2 L549.3 1069.4 L537.8 1070.9 L530.2 1069.4 L523.6 1066.2 L518.8 1062.7 L514.3 1061.5 L504.4 1063.1 L495.5 1063.8 L484.4 1064.1 L474.3 1062.7 L464.3 1059.3 L455.4 1054.5 L448.6 1047.9 L443.6 1040.3 L439.5 1031.2 L437.7 1021.5 L439 1011.6 L443.6 1002.6 L450 993.9 L457.7 986.2 L465.8 980.1 L474.3 974.4 L482.5 970 L490.7 966.1 L500.1 963.4 L509.5 960.3 L519.2 955.2 L528.4 948.5 L536 941.4 L542.5 934.3 L547.4 929 L552 923.7 L556.5 919.9Z"/>
<ellipse class="w3" cx="475.1" cy="988.3" rx="9.2" ry="4.8" transform="rotate(-30 475.1 988.3)"/>
<ellipse class="k" cx="475.1" cy="988.3" rx="7" ry="2.8" transform="rotate(-30 475.1 988.3)"/>
<ellipse class="w3" cx="459" cy="1015.5" rx="12" ry="7" transform="rotate(-35 459 1015.5)"/>
<ellipse class="k" cx="459" cy="1015.5" rx="9.8" ry="5" transform="rotate(-35 459 1015.5)"/>
<ellipse class="w3" cx="475.1" cy="1026.6" rx="9.2" ry="4.8" transform="rotate(-30 475.1 1026.6)"/>
<ellipse class="k" cx="475.1" cy="1026.6" rx="7" ry="2.8" transform="rotate(-30 475.1 1026.6)"/>
<path class="k2" d="M483 975 L478 1018 L483 1022 M487.5 973 L483.5 1019 M488 975 L498 971.5 L494 979 M476 1049 L482 1050.5 L488 1041.5 M470.5 1056 L476 1049"/>
<circle class="w2" cx="540.4" cy="1015.5" r="4.8"/>
<circle class="k2" cx="540.4" cy="1015.5" r="2.4"/>
<path class="w2" d="M556 996 Q558.5 987 566 986 Q568.5 991.5 565.5 997.5 Q561.5 1003 556 996 Z"/>
<path class="k2" d="M531 991.5 Q544 982.5 556.5 984.5 M533.5 994 Q545 986 556 987.5"/>
<circle class="w" cx="578.6" cy="916.8" r="3.4"/>
<circle class="k2" cx="578.6" cy="916.8" r="1.7"/>
<circle class="w" cx="587.2" cy="1048.7" r="3.4"/>
<circle class="k2" cx="587.2" cy="1048.7" r="1.7"/>
<circle class="w" cx="443" cy="1024.1" r="3.4"/>
<circle class="k2" cx="443" cy="1024.1" r="1.7"/>
<circle class="b" cx="562.6" cy="908.2" r="2.6"/>
<circle class="b" cx="427" cy="1015.5" r="2.4"/>
<circle class="b" cx="459" cy="1047.5" r="1.5"/>
<g class="lb"><text x="567.5" y="894.9" textLength="24.7" lengthAdjust="spacingAndGlyphs">052</text><path d="M594.6 900.1L567.5 900.1L562.6 908.2"/></g>
<g class="lb"><text x="413.4" y="1069.4" textLength="25.9" lengthAdjust="spacingAndGlyphs">038</text><path d="M413.4 1074.6L441.8 1074.6L459 1047.5"/></g>
<path class="k2" d="M398.6 967.4 L419.6 955.1 L440.5 944 L462.7 948.9 L464 958.8 L419.6 978.5 L398.6 968.6 Z M419.6 955.1 L419.6 978.5 M422.5 953.8 L422.5 977.2"/>
<ellipse class="k2" cx="430.7" cy="956.8" rx="1.6" ry="2.3" transform="rotate(20 430.7 956.8)"/>
<circle class="b" cx="453.6" cy="954.3" r="1.8"/>
<g class="lb"><text x="465.2" y="929.6" textLength="25.9" lengthAdjust="spacingAndGlyphs">035</text><path d="M492.3 934.8L465.2 934.8L453.6 954.3"/></g>
<ellipse class="k" cx="407.5" cy="969.5" rx="2.2" ry="1.1"/>
<ellipse class="w3" cx="400.8" cy="941.8" rx="5.4" ry="6.2"/>
<ellipse class="k2" cx="402.6" cy="942.3" rx="3.4" ry="4.2"/>
<ellipse class="k2" cx="403" cy="942.5" rx="1.4" ry="2"/>
<path class="k" d="M406 945.2L420.8 952.6"/>
<path class="k" d="M440.5 963.2L465.2 976"/>
<g class="lb"><text x="422" y="929.6" textLength="24.7" lengthAdjust="spacingAndGlyphs">034</text><path d="M406 936.6Q414 934.8 422 934.8L449.2 934.8"/></g>
<path class="k" d="M407.8 967.4L407.6 1000"/>
<ellipse class="b" cx="407.3" cy="983.4" rx="4.2" ry="3.4"/>
<ellipse class="k" style="stroke:#fff;stroke-width:1" cx="407.3" cy="982.5" rx="2" ry="1.1"/>
<g class="lb"><text x="415.9" y="993" textLength="24.6" lengthAdjust="spacingAndGlyphs">036</text><path d="M408.5 988.3L415.9 998.2L443 998.2"/></g>
<path class="k2" d="M405.4 998.2 L405.4 1008 L409.4 1008 L409.4 998.2 Z"/>
<ellipse class="b" cx="407.3" cy="1010.3" rx="4.3" ry="2.8"/>
<g class="lb"><text x="372.5" y="1005.3" textLength="23.9" lengthAdjust="spacingAndGlyphs">037</text><path d="M373.6 1010.5L402.3 1010.5"/></g>
<path class="k" d="M450.4 870L390 919.3"/>
<path class="k" d="M595.9 1046.3 L616.8 1056.1 L586 1069.7 M545.3 1088.2 L557.5 1083 M327.5 1000.5 L370 1020.5 L342.5 1033 M315 1045.5 L287.5 1058 L315 1072"/>
<!-- 71_tensioner.svg -->
<path class="k" d="M525.8 1097.6 L543.2 1090 M572.5 1093.3 L601.8 1108.4 M495.5 1111.7 L465.1 1124.7 L485.7 1135.6"/>
<path class="k2" d="M513.9 1110.6 L523.7 1106.3 L525.8 1122.5 L536.7 1132.3 L537.8 1145.3 L542.1 1148.6 L543.2 1161.6 L523.7 1175.7 L482.4 1198.5 L472.7 1205 L471.6 1192 L525.8 1158.3 L528 1142.1 L517.2 1129.1 Z"/>
<path class="k3" d="M471.6 1192 L525.8 1158.3"/>
<path class="k" d="M516 1110 L519.2 1128 L530 1141.5 L528 1157 M474 1193.5 L474.8 1203.5"/>
<ellipse class="k2" cx="534.5" cy="1161.6" rx="3.2" ry="4.4" transform="rotate(25 534.5 1161.6)"/>
<ellipse class="k2" cx="479.2" cy="1196.3" rx="1.9" ry="2.7" transform="rotate(25 479.2 1196.3)"/>
<ellipse class="k2" cx="522.2" cy="1111.7" rx="1.1" ry="1.6"/>
<circle class="b" cx="506.3" cy="1185.5" r="1.6"/>
<g class="lb"><text x="523.7" y="1192.6" textLength="21.5" lengthAdjust="spacingAndGlyphs">041</text><path d="M547.5 1197.8L523.7 1197.8L506.3 1185.5"/></g>
<path class="k" d="M502 1144.2L524.8 1155.1"/>
<ellipse class="w3" cx="491.5" cy="1139" rx="6.8" ry="9.4" transform="rotate(20 491.5 1139)"/>
<ellipse class="w3" cx="495.5" cy="1140.5" rx="6.8" ry="9.4" transform="rotate(20 495.5 1140.5)"/>
<ellipse class="k3" cx="496.5" cy="1141" rx="4.4" ry="6.2" transform="rotate(20 496.5 1141)"/>
<ellipse class="k2" cx="497" cy="1141.2" rx="1.8" ry="2.6" transform="rotate(20 497 1141.2)"/>
<g class="lb"><text x="456" y="1143.2" textLength="25.4" lengthAdjust="spacingAndGlyphs">039</text><path d="M483.5 1148.1L456.8 1148.1L485.7 1145.3"/></g>
<path class="k2" d="M428.8 1173.2 L449.8 1182.7 M431.2 1167.8 L452.2 1177.3"/>
<ellipse class="k2" cx="451" cy="1180" rx="1.8" ry="3" transform="rotate(25 451 1180)"/>
<path class="k" d="M440.5 1172.2L438 1177.8"/>
<g transform="translate(426.6 1169) rotate(25)"><path class="k3" d="M-3.2 -3.5 L0.6 -6.4 L3.8 -3.5 L3.8 3.5 L0.6 6.4 L-3.2 3.5 Z"/><path class="k3" d="M-3.2 -3.5 L-5.4 -2.2 L-5.4 2.2 L-3.2 3.5"/><ellipse class="k2" cx="0.6" cy="0" rx="2.3" ry="3.3"/></g>
<path class="k" d="M452.5 1181L471.6 1192"/>
<g class="lb"><text x="413.5" y="1142.9" textLength="23.2" lengthAdjust="spacingAndGlyphs">040</text><path d="M438.6 1148.1L413.5 1148.1L422.8 1164.9"/></g>
<path class="k" d="M481.4 1197.4L501 1208.6"/>
<path class="k" d="M511.7 1214.8L524.8 1221.3"/>
<g transform="translate(506.3 1211.5) rotate(25)"><path class="k3" d="M-3.2 -3.3 L0.6 -6 L3.8 -3.3 L3.8 3.3 L0.6 6 L-3.2 3.3 Z"/><path class="k3" d="M-3.2 -3.3 L-5.4 -2.1 L-5.4 2.1 L-3.2 3.3"/><ellipse class="k2" cx="0.6" cy="0" rx="2.2" ry="3.1"/></g>
<g class="lb"><text x="472.7" y="1230.8" textLength="24.3" lengthAdjust="spacingAndGlyphs">042</text><path d="M472.7 1236L498.7 1236L503.1 1218"/></g>
<ellipse class="w3" cx="534.5" cy="1227.5" rx="10.8" ry="15.8" transform="rotate(20 534.5 1227.5)"/>
<path class="k" d="M542.8 1214.3A10.8 15.6 20 0 0 532.2 1243.7"/>
<path class="k" d="M544.2 1217A9.4 13.8 20 0 0 534.8 1243"/>
<ellipse class="w3" cx="543" cy="1231.5" rx="11" ry="15.8" transform="rotate(20 543 1231.5)"/>
<ellipse class="k2" cx="543.5" cy="1231.8" rx="8" ry="11.6" transform="rotate(20 543.5 1231.8)"/>
<ellipse class="b" cx="544" cy="1232" rx="5.6" ry="8.2" transform="rotate(20 544 1232)"/>
<ellipse class="k" style="stroke:#fff;stroke-width:1.2" cx="544.3" cy="1232.2" rx="2.6" ry="3.8" transform="rotate(20 544.3 1232.2)"/>
<g class="lb"><text x="501.5" y="1261.6" textLength="24.9" lengthAdjust="spacingAndGlyphs">043</text><path d="M501.5 1266.8L528 1266.8L532.4 1241.9"/></g>
<path class="k" d="M554 1236.5L562 1240.8"/>
<g transform="translate(566 1243) rotate(25)"><path class="k3" d="M-3.2 -3.4 L0.6 -6.2 L3.8 -3.4 L3.8 3.4 L0.6 6.2 L-3.2 3.4 Z"/><path class="k3" d="M-3.2 -3.4 L-5.4 -2.2 L-5.4 2.2 L-3.2 3.4"/><ellipse class="k2" cx="0.6" cy="0" rx="2.2" ry="3.2"/></g>
<g class="lb"><text x="580.1" y="1233" textLength="24.4" lengthAdjust="spacingAndGlyphs">044</text><path d="M606.1 1238.2L580.1 1238.2L572.5 1241.9"/></g>
<path class="k" d="M539.9 1164.9L559.5 1175.2"/>
<path class="k2" d="M581.6 1183.9 L562.1 1173 M578.6 1189.3 L559.1 1178.4"/>
<path class="k2" d="M562.1 1173A1.8 3.1 28 0 0 559.1 1178.4"/>
<g transform="translate(585.5 1189.8) rotate(28)"><path class="k3" d="M-3.2 -3.9 L0.6 -7 L3.8 -3.9 L3.8 3.9 L0.6 7 L-3.2 3.9 Z"/><path class="k3" d="M-3.2 -3.9 L-5.4 -2.4 L-5.4 2.4 L-3.2 3.9"/><ellipse class="k2" cx="0.6" cy="0" rx="2.5" ry="3.6"/></g>
<g class="lb"><text x="580.1" y="1170.5" textLength="24.4" lengthAdjust="spacingAndGlyphs">045</text><path d="M606.1 1175.7L580.1 1175.7L584.4 1185.5"/></g>
<!-- 72_pulley46.svg -->
<g transform="translate(701.5 1067.6) rotate(26)"><ellipse class="w2" cx="-15" cy="0" rx="45" ry="76.4"/><ellipse class="w" cx="-11" cy="0" rx="45" ry="76.4"/><ellipse class="w" cx="-6" cy="0" rx="44.3" ry="75.3"/><path class="k2" d="M-15 -76.4 L0 -76.4 M-15 76.4 L0 76.4"/><ellipse class="w2" cx="0" cy="0" rx="45" ry="76.4"/><ellipse class="k" cx="-0.5" cy="0" rx="40.5" ry="68.8"/><ellipse class="k2" cx="-2" cy="0" rx="36.9" ry="62.6"/><ellipse class="k" cx="-3.5" cy="0" rx="35.1" ry="59.6"/><path class="k2" d="M31.6 3.1L13.7 -3.5 M29.3 21.4L11.6 13.4"/><path class="k" d="M25.6 25.2L14.6 25.3L14.3 46.5"/><path class="k2" d="M12.4 53.1L8.1 19.9 M2 58.9L-1.5 25.2"/><path class="k" d="M-1.8 55.3L-6.6 37L-18.3 49.4"/><path class="k2" d="M-22.6 50L-6.6 23.4 M-30.8 37.5L-14.1 11.8"/><path class="k" d="M-30.9 30.2L-23.2 11.7L-36.1 2.9"/><path class="k2" d="M-38.6 -3.1L-15.7 3.5 M-36.3 -21.4L-13.6 -13.4"/><path class="k" d="M-32.6 -25.2L-18.6 -25.3L-21.3 -46.5"/><path class="k2" d="M-19.4 -53.1L-10.1 -19.9 M-9 -58.9L-0.5 -25.2"/><path class="k" d="M-5.2 -55.3L2.6 -37L11.3 -49.4"/><path class="k2" d="M15.6 -50L4.6 -23.4 M23.8 -37.5L12.1 -11.8"/><path class="k" d="M23.9 -30.2L19.2 -11.7L29.1 -2.9"/><ellipse class="w2" cx="-1" cy="0" rx="14.9" ry="25.2"/><ellipse class="k" cx="0.5" cy="0" rx="11.9" ry="20.2"/><ellipse class="w2" cx="3" cy="0.5" rx="4.4" ry="7.4"/><ellipse class="w2" cx="6" cy="1" rx="4.2" ry="7"/><ellipse class="k2" cx="6.6" cy="1.1" rx="2" ry="3.4"/></g>
<circle class="b" cx="711.1" cy="996.1" r="1.5"/>
<g class="lb"><text x="731.4" y="959.3" textLength="25" lengthAdjust="spacingAndGlyphs">046</text><path d="M758.1 964.5L731.4 964.5L711.1 996.1"/></g>
<path class="k2" d="M712.7 1074 L746.2 1089.8"/>
<ellipse class="b" cx="748.2" cy="1090.7" rx="2.8" ry="4.6" transform="rotate(25 748.2 1090.7)"/>
<path class="k" d="M750.5 1092L757.5 1096"/>
<path class="k2" d="M757 1094.2 L763.5 1097.4 L762.3 1100.2 L755.8 1097 Z"/>
<ellipse class="w3" cx="765.5" cy="1100.3" rx="3.2" ry="4.4" transform="rotate(25 765.5 1100.3)"/>
<ellipse class="k" cx="766" cy="1100.5" rx="1.5" ry="2.2" transform="rotate(25 766 1100.5)"/>
<g class="lb"><text x="754.1" y="1072.7" textLength="24" lengthAdjust="spacingAndGlyphs">047</text><path d="M780.7 1077.9L754.1 1077.9L750.2 1087.8"/></g>
<g class="lb"><text x="776.2" y="1094.5" textLength="24.3" lengthAdjust="spacingAndGlyphs">048</text><path d="M768.9 1099.2L803.4 1099.2"/></g>
<path class="k" d="M631.8 1124.3L661.4 1140"/>
<!-- 73_belt_cover.svg -->
<path class="k2" d="M805.9 979.7 Q805 967.5 815.7 962.4 L911.2 895.1 Q928 885 945.9 884.2 Q964 886.5 976.3 905.9 Q982 918 980.6 930 Q979.5 944 976.3 955.8 Q971 972 963.2 986.2 Q953.5 1000.5 941.5 1012.3 Q931.5 1020 919.8 1025.3 Q911 1029 902.5 1029.6 Q894 1029 887.3 1025.3 Q881 1021.5 876.4 1016.6 L856.9 994.9 Q854 991.6 850.4 991.6 L820 993.8 Q808 991.5 805.9 979.7Z"/>
<path class="k2" d="M816.8 985.1 Q813 973 821.1 966.7 L914.4 900.5 Q930 890.5 945.9 889.7 Q962 892 970.8 908.1 Q976 918.5 975.2 930 Q974.5 943 970.8 955.8 Q965 972 958 984.5 Q949 998.5 937.2 1009 Q928 1016.5 918.5 1020 Q910 1023.3 902.5 1023.1 Q892 1022.5 883 1016.6 L858 988.4 Q853.5 985 848.2 985.1 Z"/>
<path class="k" d="M809 981 Q807.5 970 817.5 964.3 L912.3 897 Q928.5 887 945.9 886.1 M812.5 983 Q810.5 972 819.5 965.7 L913.5 898.8 Q929.5 889 945.9 888 M815.7 962.4 L821.1 966.7 M911.2 895.1 L914.4 900.5 M820 993.8 L820.5 986 M850.4 991.6 L852.5 986 M856.9 994.9 L860 990.5 M876.4 1016.6 L880 1013"/>
<circle class="b" cx="938.3" cy="887.5" r="1.5"/>
<g class="lb"><text x="964.3" y="856.3" textLength="22.3" lengthAdjust="spacingAndGlyphs">051</text><path d="M988.2 861.5L964.3 861.5L938.3 887.5"/></g>
<path class="k2" d="M856 1068.1 C858.8 1066.5 863 1065 867 1064.3 C871 1063.6 875.5 1063.3 879.7 1063.7 C883.9 1064.1 888.1 1065 892 1066.5 C895.9 1068 899.3 1070.3 903.3 1072.5 C907.3 1074.7 912 1077 916 1079.5 C920 1082 923.5 1084.4 927 1087.3 C930.5 1090.2 934 1093.5 937 1097 C940 1100.5 942.8 1104.5 944.8 1108 C946.8 1111.5 948 1114.5 949 1118 C950 1121.5 950.5 1124.6 950.7 1128.8 C951 1133 951 1138.1 950.5 1143 C950 1147.9 949 1152.8 947.7 1158.3 C946.5 1163.8 945 1170.1 943 1176 C941 1181.9 938.6 1188.2 935.9 1193.8 C933.2 1199.4 930.5 1204.6 927 1209.5 C923.5 1214.4 919 1219.7 915.2 1223.4 C911.4 1227.2 908 1229.5 904 1232 C900 1234.5 895.5 1236.5 891.5 1238.2 C887.5 1239.9 884 1241 880 1242 C876 1243 871.5 1243.6 867.8 1244.1 C864.1 1244.6 861 1245 858 1245 C855 1245 852.4 1244.7 850.1 1244.1 C847.8 1243.5 846 1242.5 844 1241.5 C842 1240.5 840.3 1239.5 838.3 1238.2 C836.3 1237 834 1235 832 1234 C830 1233 829.4 1232.2 826.4 1232.3 C823.4 1232.4 817.9 1234 814 1234.5 C810.1 1235 806.7 1235.4 802.8 1235.3 C798.9 1235.2 794.5 1234.8 790.5 1234 C786.5 1233.2 783.1 1232.3 779.1 1230.8 C775.1 1229.3 770.5 1227.2 766.5 1225 C762.5 1222.8 758.9 1220.2 755.4 1217.5 C751.9 1214.8 748.5 1212 745.5 1209 C742.5 1206 739.9 1202.8 737.7 1199.8 C735.5 1196.8 733.7 1194 732.5 1191 C731.3 1188 730.6 1185 730.3 1182 C730 1179 730 1176 730.5 1173 C731 1170 731.9 1167 733.2 1164.3 C734.5 1161.5 736.3 1159 738.5 1156.5 C740.7 1154 742.6 1152.7 746.5 1149.5 C750.4 1146.3 756.6 1141.5 762 1137.5 C767.4 1133.5 773.3 1129.3 779.1 1125.8 C784.9 1122.3 791.1 1119.5 797 1116.5 C802.9 1113.5 809.5 1110.8 814.6 1108 C819.7 1105.2 823.5 1103 827.5 1100 C831.5 1097 835.4 1093.3 838.3 1090.3 C841.2 1087.3 843 1084.7 845 1082 C847 1079.3 848.3 1076.3 850.1 1074 C851.9 1071.7 853.2 1069.7 856 1068.1Z"/>
<ellipse class="k2" cx="889.5" cy="1166.5" rx="51" ry="77" transform="rotate(27 889.5 1166.5)"/>
<ellipse class="k2" cx="891.5" cy="1168.5" rx="47" ry="70.5" transform="rotate(27 891.5 1168.5)"/>
<ellipse class="k3" cx="893.5" cy="1168.7" rx="44.5" ry="67.5" transform="rotate(27 893.5 1168.7)"/>
<path class="k3" d="M856 1125.8 C851.7 1127.9 838.9 1134.1 830 1138.5 C821.1 1142.9 810.1 1148.8 802.8 1152.4 C795.5 1156 790.9 1157.5 786 1160 C781.1 1162.5 776.7 1165 773.2 1167.2 C769.7 1169.4 767 1171 765 1173 C763 1175 762.5 1176.8 761.3 1179 C760 1181.2 758.2 1183.5 757.5 1186 C756.8 1188.5 756.7 1191 756.9 1193.8 C757.1 1196.6 757.5 1200 758.5 1203 C759.5 1206 760.9 1208.8 762.8 1211.6 C764.7 1214.4 767.3 1217.5 770 1220 C772.7 1222.5 775.8 1224.7 779.1 1226.4 C782.4 1228.2 786 1229.5 790 1230.5 C794 1231.5 798.6 1232.1 802.8 1232.3 C807 1232.5 811.1 1232 815 1231.5 C818.9 1231 824.5 1229.8 826.4 1229.5"/>
<path class="k" d="M862 1116 C857 1118.5 842.3 1125.9 832 1131 C821.7 1136.1 809.5 1141.7 800 1146.5 C790.5 1151.3 782 1155.8 775 1160 C768 1164.2 762.3 1168.2 758 1172 C753.7 1175.8 751 1179.2 749 1183 C747 1186.8 745.8 1190.8 746 1195 C746.2 1199.2 747.7 1204 750 1208 C752.3 1212 758.3 1217.2 760 1219"/>
<path class="k" d="M805.7 1114 L816 1118.4 M844.2 1106.6 Q852 1115 856 1125.8 M765.8 1134.7 Q781 1146 793.9 1158.3 M748 1149.5 L776 1140.6 M739.1 1170.2 L755.4 1179 M735 1189 L757 1192 M885.6 1096.2 L894.5 1103.6 M918.1 1094.7 L924 1103.6 M762 1192.5 L764 1218"/>
<ellipse class="k2" cx="901.9" cy="1088.8" rx="2.4" ry="4.1" transform="rotate(10 901.9 1088.8)"/>
<circle class="b" cx="864.3" cy="1068.1" r="1.1"/>
<ellipse class="k2" cx="759.9" cy="1192.4" rx="1.6" ry="2.6" transform="rotate(10 759.9 1192.4)"/>
<circle class="b" cx="923.5" cy="1184.4" r="1.7"/>
<g class="lb"><text x="955.1" y="1189.5" textLength="25.2" lengthAdjust="spacingAndGlyphs">049</text><path d="M982.6 1194.7L955.1 1194.7L923.5 1184.4"/></g>
<path class="k" d="M761.3 1193.8L774.7 1200.7"/>
<path class="k3" style="stroke-width:2.6" d="M775 1200.8L783 1204"/>
<circle class="b" cx="783" cy="1204" r="2.3"/>
<path class="k3" style="stroke-width:2.6" d="M956 1118L961.5 1121"/>
<circle class="b" cx="961.5" cy="1121" r="2.3"/>
<path class="k3" style="stroke-width:2.6" d="M925 1229L930.5 1232.5"/>
<circle class="b" cx="930.5" cy="1232.5" r="2.3"/>
<g class="lb"><text x="788" y="1189.5" textLength="23.6" lengthAdjust="spacingAndGlyphs">050</text><path d="M814 1194.7L788 1194.7L782.6 1202.1"/></g>
<path class="k" d="M689.5 1155.5L730.3 1177.6"/>
</svg>
</body></html>
